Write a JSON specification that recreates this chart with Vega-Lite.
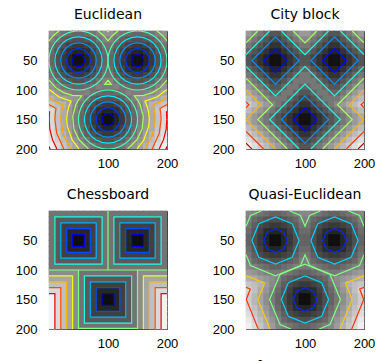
{
"$schema":"https://vega.github.io/schema/vega-lite/v6.json",
"padding":{"left":14,"top":7,"right":0,"bottom":0},
"bounds":"flush",
"columns":2,
"spacing":{"row":62,"column":79},
"resolve":{"scale":{"fill":"independent","stroke":"independent"}},
"config":{
"view":{"stroke":"#262626","strokeWidth":1},
"axis":{"grid":false,"domain":false,"labelFont":"Liberation Sans","labelFontSize":13,"labelColor":"#000000","tickColor":"#262626","tickSize":-3,"labelFlush":false,"labelOverlap":false,"labelBound":false,"labelSeparation":0},
"axisX":{"labelPadding":11},
"axisY":{"labelPadding":15},
"title":{"font":"DejaVu Sans","fontSize":14,"fontWeight":"normal","color":"#000000","offset":9}
},
"title":{"text":"Fig.1 Distance transforms","orient":"bottom","anchor":"middle","font":"Liberation Serif","fontSize":21,"fontWeight":"normal","offset":7},
"datasets":{
"gE":[
{"x":5,"y":5,"d":64},{"x":15,"y":5,"d":57},{"x":25,"y":5,"d":51},{"x":35,"y":5,"d":47},{"x":45,"y":5,"d":45},{"x":55,"y":5,"d":45},{"x":65,"y":5,"d":47},{"x":75,"y":5,"d":51},{"x":85,"y":5,"d":57},{"x":95,"y":5,"d":64},{"x":105,"y":5,"d":64},{"x":115,"y":5,"d":57},{"x":125,"y":5,"d":51},{"x":135,"y":5,"d":47},{"x":145,"y":5,"d":45},{"x":155,"y":5,"d":45},{"x":165,"y":5,"d":47},{"x":175,"y":5,"d":51},{"x":185,"y":5,"d":57},{"x":195,"y":5,"d":64},
{"x":5,"y":15,"d":57},{"x":15,"y":15,"d":50},{"x":25,"y":15,"d":43},{"x":35,"y":15,"d":38},{"x":45,"y":15,"d":35},{"x":55,"y":15,"d":35},{"x":65,"y":15,"d":38},{"x":75,"y":15,"d":43},{"x":85,"y":15,"d":50},{"x":95,"y":15,"d":57},{"x":105,"y":15,"d":57},{"x":115,"y":15,"d":50},{"x":125,"y":15,"d":43},{"x":135,"y":15,"d":38},{"x":145,"y":15,"d":35},{"x":155,"y":15,"d":35},{"x":165,"y":15,"d":38},{"x":175,"y":15,"d":43},{"x":185,"y":15,"d":50},{"x":195,"y":15,"d":57},
{"x":5,"y":25,"d":51},{"x":15,"y":25,"d":43},{"x":25,"y":25,"d":35},{"x":35,"y":25,"d":29},{"x":45,"y":25,"d":25},{"x":55,"y":25,"d":25},{"x":65,"y":25,"d":29},{"x":75,"y":25,"d":35},{"x":85,"y":25,"d":43},{"x":95,"y":25,"d":51},{"x":105,"y":25,"d":51},{"x":115,"y":25,"d":43},{"x":125,"y":25,"d":35},{"x":135,"y":25,"d":29},{"x":145,"y":25,"d":25},{"x":155,"y":25,"d":25},{"x":165,"y":25,"d":29},{"x":175,"y":25,"d":35},{"x":185,"y":25,"d":43},{"x":195,"y":25,"d":51},
{"x":5,"y":35,"d":47},{"x":15,"y":35,"d":38},{"x":25,"y":35,"d":29},{"x":35,"y":35,"d":21},{"x":45,"y":35,"d":16},{"x":55,"y":35,"d":16},{"x":65,"y":35,"d":21},{"x":75,"y":35,"d":29},{"x":85,"y":35,"d":38},{"x":95,"y":35,"d":47},{"x":105,"y":35,"d":47},{"x":115,"y":35,"d":38},{"x":125,"y":35,"d":29},{"x":135,"y":35,"d":21},{"x":145,"y":35,"d":16},{"x":155,"y":35,"d":16},{"x":165,"y":35,"d":21},{"x":175,"y":35,"d":29},{"x":185,"y":35,"d":38},{"x":195,"y":35,"d":47},
{"x":5,"y":45,"d":45},{"x":15,"y":45,"d":35},{"x":25,"y":45,"d":25},{"x":35,"y":45,"d":16},{"x":45,"y":45,"d":7},{"x":55,"y":45,"d":7},{"x":65,"y":45,"d":16},{"x":75,"y":45,"d":25},{"x":85,"y":45,"d":35},{"x":95,"y":45,"d":45},{"x":105,"y":45,"d":45},{"x":115,"y":45,"d":35},{"x":125,"y":45,"d":25},{"x":135,"y":45,"d":16},{"x":145,"y":45,"d":7},{"x":155,"y":45,"d":7},{"x":165,"y":45,"d":16},{"x":175,"y":45,"d":25},{"x":185,"y":45,"d":35},{"x":195,"y":45,"d":45},
{"x":5,"y":55,"d":45},{"x":15,"y":55,"d":35},{"x":25,"y":55,"d":25},{"x":35,"y":55,"d":16},{"x":45,"y":55,"d":7},{"x":55,"y":55,"d":7},{"x":65,"y":55,"d":16},{"x":75,"y":55,"d":25},{"x":85,"y":55,"d":35},{"x":95,"y":55,"d":45},{"x":105,"y":55,"d":45},{"x":115,"y":55,"d":35},{"x":125,"y":55,"d":25},{"x":135,"y":55,"d":16},{"x":145,"y":55,"d":7},{"x":155,"y":55,"d":7},{"x":165,"y":55,"d":16},{"x":175,"y":55,"d":25},{"x":185,"y":55,"d":35},{"x":195,"y":55,"d":45},
{"x":5,"y":65,"d":47},{"x":15,"y":65,"d":38},{"x":25,"y":65,"d":29},{"x":35,"y":65,"d":21},{"x":45,"y":65,"d":16},{"x":55,"y":65,"d":16},{"x":65,"y":65,"d":21},{"x":75,"y":65,"d":29},{"x":85,"y":65,"d":38},{"x":95,"y":65,"d":47},{"x":105,"y":65,"d":47},{"x":115,"y":65,"d":38},{"x":125,"y":65,"d":29},{"x":135,"y":65,"d":21},{"x":145,"y":65,"d":16},{"x":155,"y":65,"d":16},{"x":165,"y":65,"d":21},{"x":175,"y":65,"d":29},{"x":185,"y":65,"d":38},{"x":195,"y":65,"d":47},
{"x":5,"y":75,"d":51},{"x":15,"y":75,"d":43},{"x":25,"y":75,"d":35},{"x":35,"y":75,"d":29},{"x":45,"y":75,"d":25},{"x":55,"y":75,"d":25},{"x":65,"y":75,"d":29},{"x":75,"y":75,"d":35},{"x":85,"y":75,"d":43},{"x":95,"y":75,"d":51},{"x":105,"y":75,"d":51},{"x":115,"y":75,"d":43},{"x":125,"y":75,"d":35},{"x":135,"y":75,"d":29},{"x":145,"y":75,"d":25},{"x":155,"y":75,"d":25},{"x":165,"y":75,"d":29},{"x":175,"y":75,"d":35},{"x":185,"y":75,"d":43},{"x":195,"y":75,"d":51},
{"x":5,"y":85,"d":57},{"x":15,"y":85,"d":50},{"x":25,"y":85,"d":43},{"x":35,"y":85,"d":38},{"x":45,"y":85,"d":35},{"x":55,"y":85,"d":35},{"x":65,"y":85,"d":38},{"x":75,"y":85,"d":43},{"x":85,"y":85,"d":50},{"x":95,"y":85,"d":57},{"x":105,"y":85,"d":57},{"x":115,"y":85,"d":50},{"x":125,"y":85,"d":43},{"x":135,"y":85,"d":38},{"x":145,"y":85,"d":35},{"x":155,"y":85,"d":35},{"x":165,"y":85,"d":38},{"x":175,"y":85,"d":43},{"x":185,"y":85,"d":50},{"x":195,"y":85,"d":57},
{"x":5,"y":95,"d":64},{"x":15,"y":95,"d":57},{"x":25,"y":95,"d":51},{"x":35,"y":95,"d":47},{"x":45,"y":95,"d":45},{"x":55,"y":95,"d":45},{"x":65,"y":95,"d":47},{"x":75,"y":95,"d":51},{"x":85,"y":95,"d":57},{"x":95,"y":95,"d":55},{"x":105,"y":95,"d":55},{"x":115,"y":95,"d":57},{"x":125,"y":95,"d":51},{"x":135,"y":95,"d":47},{"x":145,"y":95,"d":45},{"x":155,"y":95,"d":45},{"x":165,"y":95,"d":47},{"x":175,"y":95,"d":51},{"x":185,"y":95,"d":57},{"x":195,"y":95,"d":64},
{"x":5,"y":105,"d":71},{"x":15,"y":105,"d":65},{"x":25,"y":105,"d":60},{"x":35,"y":105,"d":57},{"x":45,"y":105,"d":55},{"x":55,"y":105,"d":55},{"x":65,"y":105,"d":57},{"x":75,"y":105,"d":51},{"x":85,"y":105,"d":47},{"x":95,"y":105,"d":45},{"x":105,"y":105,"d":45},{"x":115,"y":105,"d":47},{"x":125,"y":105,"d":51},{"x":135,"y":105,"d":57},{"x":145,"y":105,"d":55},{"x":155,"y":105,"d":55},{"x":165,"y":105,"d":57},{"x":175,"y":105,"d":60},{"x":185,"y":105,"d":65},{"x":195,"y":105,"d":71},
{"x":5,"y":115,"d":79},{"x":15,"y":115,"d":74},{"x":25,"y":115,"d":70},{"x":35,"y":115,"d":67},{"x":45,"y":115,"d":65},{"x":55,"y":115,"d":57},{"x":65,"y":115,"d":50},{"x":75,"y":115,"d":43},{"x":85,"y":115,"d":38},{"x":95,"y":115,"d":35},{"x":105,"y":115,"d":35},{"x":115,"y":115,"d":38},{"x":125,"y":115,"d":43},{"x":135,"y":115,"d":50},{"x":145,"y":115,"d":57},{"x":155,"y":115,"d":65},{"x":165,"y":115,"d":67},{"x":175,"y":115,"d":70},{"x":185,"y":115,"d":74},{"x":195,"y":115,"d":79},
{"x":5,"y":125,"d":87},{"x":15,"y":125,"d":83},{"x":25,"y":125,"d":79},{"x":35,"y":125,"d":70},{"x":45,"y":125,"d":60},{"x":55,"y":125,"d":51},{"x":65,"y":125,"d":43},{"x":75,"y":125,"d":35},{"x":85,"y":125,"d":29},{"x":95,"y":125,"d":25},{"x":105,"y":125,"d":25},{"x":115,"y":125,"d":29},{"x":125,"y":125,"d":35},{"x":135,"y":125,"d":43},{"x":145,"y":125,"d":51},{"x":155,"y":125,"d":60},{"x":165,"y":125,"d":70},{"x":175,"y":125,"d":79},{"x":185,"y":125,"d":83},{"x":195,"y":125,"d":87},
{"x":5,"y":135,"d":96},{"x":15,"y":135,"d":86},{"x":25,"y":135,"d":76},{"x":35,"y":135,"d":67},{"x":45,"y":135,"d":57},{"x":55,"y":135,"d":47},{"x":65,"y":135,"d":38},{"x":75,"y":135,"d":29},{"x":85,"y":135,"d":21},{"x":95,"y":135,"d":16},{"x":105,"y":135,"d":16},{"x":115,"y":135,"d":21},{"x":125,"y":135,"d":29},{"x":135,"y":135,"d":38},{"x":145,"y":135,"d":47},{"x":155,"y":135,"d":57},{"x":165,"y":135,"d":67},{"x":175,"y":135,"d":76},{"x":185,"y":135,"d":86},{"x":195,"y":135,"d":96},
{"x":5,"y":145,"d":95},{"x":15,"y":145,"d":85},{"x":25,"y":145,"d":75},{"x":35,"y":145,"d":65},{"x":45,"y":145,"d":55},{"x":55,"y":145,"d":45},{"x":65,"y":145,"d":35},{"x":75,"y":145,"d":25},{"x":85,"y":145,"d":16},{"x":95,"y":145,"d":7},{"x":105,"y":145,"d":7},{"x":115,"y":145,"d":16},{"x":125,"y":145,"d":25},{"x":135,"y":145,"d":35},{"x":145,"y":145,"d":45},{"x":155,"y":145,"d":55},{"x":165,"y":145,"d":65},{"x":175,"y":145,"d":75},{"x":185,"y":145,"d":85},{"x":195,"y":145,"d":95},
{"x":5,"y":155,"d":95},{"x":15,"y":155,"d":85},{"x":25,"y":155,"d":75},{"x":35,"y":155,"d":65},{"x":45,"y":155,"d":55},{"x":55,"y":155,"d":45},{"x":65,"y":155,"d":35},{"x":75,"y":155,"d":25},{"x":85,"y":155,"d":16},{"x":95,"y":155,"d":7},{"x":105,"y":155,"d":7},{"x":115,"y":155,"d":16},{"x":125,"y":155,"d":25},{"x":135,"y":155,"d":35},{"x":145,"y":155,"d":45},{"x":155,"y":155,"d":55},{"x":165,"y":155,"d":65},{"x":175,"y":155,"d":75},{"x":185,"y":155,"d":85},{"x":195,"y":155,"d":95},
{"x":5,"y":165,"d":96},{"x":15,"y":165,"d":86},{"x":25,"y":165,"d":76},{"x":35,"y":165,"d":67},{"x":45,"y":165,"d":57},{"x":55,"y":165,"d":47},{"x":65,"y":165,"d":38},{"x":75,"y":165,"d":29},{"x":85,"y":165,"d":21},{"x":95,"y":165,"d":16},{"x":105,"y":165,"d":16},{"x":115,"y":165,"d":21},{"x":125,"y":165,"d":29},{"x":135,"y":165,"d":38},{"x":145,"y":165,"d":47},{"x":155,"y":165,"d":57},{"x":165,"y":165,"d":67},{"x":175,"y":165,"d":76},{"x":185,"y":165,"d":86},{"x":195,"y":165,"d":96},
{"x":5,"y":175,"d":98},{"x":15,"y":175,"d":89},{"x":25,"y":175,"d":79},{"x":35,"y":175,"d":70},{"x":45,"y":175,"d":60},{"x":55,"y":175,"d":51},{"x":65,"y":175,"d":43},{"x":75,"y":175,"d":35},{"x":85,"y":175,"d":29},{"x":95,"y":175,"d":25},{"x":105,"y":175,"d":25},{"x":115,"y":175,"d":29},{"x":125,"y":175,"d":35},{"x":135,"y":175,"d":43},{"x":145,"y":175,"d":51},{"x":155,"y":175,"d":60},{"x":165,"y":175,"d":70},{"x":175,"y":175,"d":79},{"x":185,"y":175,"d":89},{"x":195,"y":175,"d":98},
{"x":5,"y":185,"d":101},{"x":15,"y":185,"d":92},{"x":25,"y":185,"d":83},{"x":35,"y":185,"d":74},{"x":45,"y":185,"d":65},{"x":55,"y":185,"d":57},{"x":65,"y":185,"d":50},{"x":75,"y":185,"d":43},{"x":85,"y":185,"d":38},{"x":95,"y":185,"d":35},{"x":105,"y":185,"d":35},{"x":115,"y":185,"d":38},{"x":125,"y":185,"d":43},{"x":135,"y":185,"d":50},{"x":145,"y":185,"d":57},{"x":155,"y":185,"d":65},{"x":165,"y":185,"d":74},{"x":175,"y":185,"d":83},{"x":185,"y":185,"d":92},{"x":195,"y":185,"d":101},
{"x":5,"y":195,"d":105},{"x":15,"y":195,"d":96},{"x":25,"y":195,"d":87},{"x":35,"y":195,"d":79},{"x":45,"y":195,"d":71},{"x":55,"y":195,"d":64},{"x":65,"y":195,"d":57},{"x":75,"y":195,"d":51},{"x":85,"y":195,"d":47},{"x":95,"y":195,"d":45},{"x":105,"y":195,"d":45},{"x":115,"y":195,"d":47},{"x":125,"y":195,"d":51},{"x":135,"y":195,"d":57},{"x":145,"y":195,"d":64},{"x":155,"y":195,"d":71},{"x":165,"y":195,"d":79},{"x":175,"y":195,"d":87},{"x":185,"y":195,"d":96},{"x":195,"y":195,"d":105}
],
"gC":[
{"x":5,"y":5,"d":90},{"x":15,"y":5,"d":80},{"x":25,"y":5,"d":70},{"x":35,"y":5,"d":60},{"x":45,"y":5,"d":50},{"x":55,"y":5,"d":50},{"x":65,"y":5,"d":60},{"x":75,"y":5,"d":70},{"x":85,"y":5,"d":80},{"x":95,"y":5,"d":90},{"x":105,"y":5,"d":90},{"x":115,"y":5,"d":80},{"x":125,"y":5,"d":70},{"x":135,"y":5,"d":60},{"x":145,"y":5,"d":50},{"x":155,"y":5,"d":50},{"x":165,"y":5,"d":60},{"x":175,"y":5,"d":70},{"x":185,"y":5,"d":80},{"x":195,"y":5,"d":90},
{"x":5,"y":15,"d":80},{"x":15,"y":15,"d":70},{"x":25,"y":15,"d":60},{"x":35,"y":15,"d":50},{"x":45,"y":15,"d":40},{"x":55,"y":15,"d":40},{"x":65,"y":15,"d":50},{"x":75,"y":15,"d":60},{"x":85,"y":15,"d":70},{"x":95,"y":15,"d":80},{"x":105,"y":15,"d":80},{"x":115,"y":15,"d":70},{"x":125,"y":15,"d":60},{"x":135,"y":15,"d":50},{"x":145,"y":15,"d":40},{"x":155,"y":15,"d":40},{"x":165,"y":15,"d":50},{"x":175,"y":15,"d":60},{"x":185,"y":15,"d":70},{"x":195,"y":15,"d":80},
{"x":5,"y":25,"d":70},{"x":15,"y":25,"d":60},{"x":25,"y":25,"d":50},{"x":35,"y":25,"d":40},{"x":45,"y":25,"d":30},{"x":55,"y":25,"d":30},{"x":65,"y":25,"d":40},{"x":75,"y":25,"d":50},{"x":85,"y":25,"d":60},{"x":95,"y":25,"d":70},{"x":105,"y":25,"d":70},{"x":115,"y":25,"d":60},{"x":125,"y":25,"d":50},{"x":135,"y":25,"d":40},{"x":145,"y":25,"d":30},{"x":155,"y":25,"d":30},{"x":165,"y":25,"d":40},{"x":175,"y":25,"d":50},{"x":185,"y":25,"d":60},{"x":195,"y":25,"d":70},
{"x":5,"y":35,"d":60},{"x":15,"y":35,"d":50},{"x":25,"y":35,"d":40},{"x":35,"y":35,"d":30},{"x":45,"y":35,"d":20},{"x":55,"y":35,"d":20},{"x":65,"y":35,"d":30},{"x":75,"y":35,"d":40},{"x":85,"y":35,"d":50},{"x":95,"y":35,"d":60},{"x":105,"y":35,"d":60},{"x":115,"y":35,"d":50},{"x":125,"y":35,"d":40},{"x":135,"y":35,"d":30},{"x":145,"y":35,"d":20},{"x":155,"y":35,"d":20},{"x":165,"y":35,"d":30},{"x":175,"y":35,"d":40},{"x":185,"y":35,"d":50},{"x":195,"y":35,"d":60},
{"x":5,"y":45,"d":50},{"x":15,"y":45,"d":40},{"x":25,"y":45,"d":30},{"x":35,"y":45,"d":20},{"x":45,"y":45,"d":10},{"x":55,"y":45,"d":10},{"x":65,"y":45,"d":20},{"x":75,"y":45,"d":30},{"x":85,"y":45,"d":40},{"x":95,"y":45,"d":50},{"x":105,"y":45,"d":50},{"x":115,"y":45,"d":40},{"x":125,"y":45,"d":30},{"x":135,"y":45,"d":20},{"x":145,"y":45,"d":10},{"x":155,"y":45,"d":10},{"x":165,"y":45,"d":20},{"x":175,"y":45,"d":30},{"x":185,"y":45,"d":40},{"x":195,"y":45,"d":50},
{"x":5,"y":55,"d":50},{"x":15,"y":55,"d":40},{"x":25,"y":55,"d":30},{"x":35,"y":55,"d":20},{"x":45,"y":55,"d":10},{"x":55,"y":55,"d":10},{"x":65,"y":55,"d":20},{"x":75,"y":55,"d":30},{"x":85,"y":55,"d":40},{"x":95,"y":55,"d":50},{"x":105,"y":55,"d":50},{"x":115,"y":55,"d":40},{"x":125,"y":55,"d":30},{"x":135,"y":55,"d":20},{"x":145,"y":55,"d":10},{"x":155,"y":55,"d":10},{"x":165,"y":55,"d":20},{"x":175,"y":55,"d":30},{"x":185,"y":55,"d":40},{"x":195,"y":55,"d":50},
{"x":5,"y":65,"d":60},{"x":15,"y":65,"d":50},{"x":25,"y":65,"d":40},{"x":35,"y":65,"d":30},{"x":45,"y":65,"d":20},{"x":55,"y":65,"d":20},{"x":65,"y":65,"d":30},{"x":75,"y":65,"d":40},{"x":85,"y":65,"d":50},{"x":95,"y":65,"d":60},{"x":105,"y":65,"d":60},{"x":115,"y":65,"d":50},{"x":125,"y":65,"d":40},{"x":135,"y":65,"d":30},{"x":145,"y":65,"d":20},{"x":155,"y":65,"d":20},{"x":165,"y":65,"d":30},{"x":175,"y":65,"d":40},{"x":185,"y":65,"d":50},{"x":195,"y":65,"d":60},
{"x":5,"y":75,"d":70},{"x":15,"y":75,"d":60},{"x":25,"y":75,"d":50},{"x":35,"y":75,"d":40},{"x":45,"y":75,"d":30},{"x":55,"y":75,"d":30},{"x":65,"y":75,"d":40},{"x":75,"y":75,"d":50},{"x":85,"y":75,"d":60},{"x":95,"y":75,"d":70},{"x":105,"y":75,"d":70},{"x":115,"y":75,"d":60},{"x":125,"y":75,"d":50},{"x":135,"y":75,"d":40},{"x":145,"y":75,"d":30},{"x":155,"y":75,"d":30},{"x":165,"y":75,"d":40},{"x":175,"y":75,"d":50},{"x":185,"y":75,"d":60},{"x":195,"y":75,"d":70},
{"x":5,"y":85,"d":80},{"x":15,"y":85,"d":70},{"x":25,"y":85,"d":60},{"x":35,"y":85,"d":50},{"x":45,"y":85,"d":40},{"x":55,"y":85,"d":40},{"x":65,"y":85,"d":50},{"x":75,"y":85,"d":60},{"x":85,"y":85,"d":70},{"x":95,"y":85,"d":70},{"x":105,"y":85,"d":70},{"x":115,"y":85,"d":70},{"x":125,"y":85,"d":60},{"x":135,"y":85,"d":50},{"x":145,"y":85,"d":40},{"x":155,"y":85,"d":40},{"x":165,"y":85,"d":50},{"x":175,"y":85,"d":60},{"x":185,"y":85,"d":70},{"x":195,"y":85,"d":80},
{"x":5,"y":95,"d":90},{"x":15,"y":95,"d":80},{"x":25,"y":95,"d":70},{"x":35,"y":95,"d":60},{"x":45,"y":95,"d":50},{"x":55,"y":95,"d":50},{"x":65,"y":95,"d":60},{"x":75,"y":95,"d":70},{"x":85,"y":95,"d":70},{"x":95,"y":95,"d":60},{"x":105,"y":95,"d":60},{"x":115,"y":95,"d":70},{"x":125,"y":95,"d":70},{"x":135,"y":95,"d":60},{"x":145,"y":95,"d":50},{"x":155,"y":95,"d":50},{"x":165,"y":95,"d":60},{"x":175,"y":95,"d":70},{"x":185,"y":95,"d":80},{"x":195,"y":95,"d":90},
{"x":5,"y":105,"d":100},{"x":15,"y":105,"d":90},{"x":25,"y":105,"d":80},{"x":35,"y":105,"d":70},{"x":45,"y":105,"d":60},{"x":55,"y":105,"d":60},{"x":65,"y":105,"d":70},{"x":75,"y":105,"d":70},{"x":85,"y":105,"d":60},{"x":95,"y":105,"d":50},{"x":105,"y":105,"d":50},{"x":115,"y":105,"d":60},{"x":125,"y":105,"d":70},{"x":135,"y":105,"d":70},{"x":145,"y":105,"d":60},{"x":155,"y":105,"d":60},{"x":165,"y":105,"d":70},{"x":175,"y":105,"d":80},{"x":185,"y":105,"d":90},{"x":195,"y":105,"d":100},
{"x":5,"y":115,"d":110},{"x":15,"y":115,"d":100},{"x":25,"y":115,"d":90},{"x":35,"y":115,"d":80},{"x":45,"y":115,"d":70},{"x":55,"y":115,"d":70},{"x":65,"y":115,"d":70},{"x":75,"y":115,"d":60},{"x":85,"y":115,"d":50},{"x":95,"y":115,"d":40},{"x":105,"y":115,"d":40},{"x":115,"y":115,"d":50},{"x":125,"y":115,"d":60},{"x":135,"y":115,"d":70},{"x":145,"y":115,"d":70},{"x":155,"y":115,"d":70},{"x":165,"y":115,"d":80},{"x":175,"y":115,"d":90},{"x":185,"y":115,"d":100},{"x":195,"y":115,"d":110},
{"x":5,"y":125,"d":120},{"x":15,"y":125,"d":110},{"x":25,"y":125,"d":100},{"x":35,"y":125,"d":90},{"x":45,"y":125,"d":80},{"x":55,"y":125,"d":70},{"x":65,"y":125,"d":60},{"x":75,"y":125,"d":50},{"x":85,"y":125,"d":40},{"x":95,"y":125,"d":30},{"x":105,"y":125,"d":30},{"x":115,"y":125,"d":40},{"x":125,"y":125,"d":50},{"x":135,"y":125,"d":60},{"x":145,"y":125,"d":70},{"x":155,"y":125,"d":80},{"x":165,"y":125,"d":90},{"x":175,"y":125,"d":100},{"x":185,"y":125,"d":110},{"x":195,"y":125,"d":120},
{"x":5,"y":135,"d":110},{"x":15,"y":135,"d":100},{"x":25,"y":135,"d":90},{"x":35,"y":135,"d":80},{"x":45,"y":135,"d":70},{"x":55,"y":135,"d":60},{"x":65,"y":135,"d":50},{"x":75,"y":135,"d":40},{"x":85,"y":135,"d":30},{"x":95,"y":135,"d":20},{"x":105,"y":135,"d":20},{"x":115,"y":135,"d":30},{"x":125,"y":135,"d":40},{"x":135,"y":135,"d":50},{"x":145,"y":135,"d":60},{"x":155,"y":135,"d":70},{"x":165,"y":135,"d":80},{"x":175,"y":135,"d":90},{"x":185,"y":135,"d":100},{"x":195,"y":135,"d":110},
{"x":5,"y":145,"d":100},{"x":15,"y":145,"d":90},{"x":25,"y":145,"d":80},{"x":35,"y":145,"d":70},{"x":45,"y":145,"d":60},{"x":55,"y":145,"d":50},{"x":65,"y":145,"d":40},{"x":75,"y":145,"d":30},{"x":85,"y":145,"d":20},{"x":95,"y":145,"d":10},{"x":105,"y":145,"d":10},{"x":115,"y":145,"d":20},{"x":125,"y":145,"d":30},{"x":135,"y":145,"d":40},{"x":145,"y":145,"d":50},{"x":155,"y":145,"d":60},{"x":165,"y":145,"d":70},{"x":175,"y":145,"d":80},{"x":185,"y":145,"d":90},{"x":195,"y":145,"d":100},
{"x":5,"y":155,"d":100},{"x":15,"y":155,"d":90},{"x":25,"y":155,"d":80},{"x":35,"y":155,"d":70},{"x":45,"y":155,"d":60},{"x":55,"y":155,"d":50},{"x":65,"y":155,"d":40},{"x":75,"y":155,"d":30},{"x":85,"y":155,"d":20},{"x":95,"y":155,"d":10},{"x":105,"y":155,"d":10},{"x":115,"y":155,"d":20},{"x":125,"y":155,"d":30},{"x":135,"y":155,"d":40},{"x":145,"y":155,"d":50},{"x":155,"y":155,"d":60},{"x":165,"y":155,"d":70},{"x":175,"y":155,"d":80},{"x":185,"y":155,"d":90},{"x":195,"y":155,"d":100},
{"x":5,"y":165,"d":110},{"x":15,"y":165,"d":100},{"x":25,"y":165,"d":90},{"x":35,"y":165,"d":80},{"x":45,"y":165,"d":70},{"x":55,"y":165,"d":60},{"x":65,"y":165,"d":50},{"x":75,"y":165,"d":40},{"x":85,"y":165,"d":30},{"x":95,"y":165,"d":20},{"x":105,"y":165,"d":20},{"x":115,"y":165,"d":30},{"x":125,"y":165,"d":40},{"x":135,"y":165,"d":50},{"x":145,"y":165,"d":60},{"x":155,"y":165,"d":70},{"x":165,"y":165,"d":80},{"x":175,"y":165,"d":90},{"x":185,"y":165,"d":100},{"x":195,"y":165,"d":110},
{"x":5,"y":175,"d":120},{"x":15,"y":175,"d":110},{"x":25,"y":175,"d":100},{"x":35,"y":175,"d":90},{"x":45,"y":175,"d":80},{"x":55,"y":175,"d":70},{"x":65,"y":175,"d":60},{"x":75,"y":175,"d":50},{"x":85,"y":175,"d":40},{"x":95,"y":175,"d":30},{"x":105,"y":175,"d":30},{"x":115,"y":175,"d":40},{"x":125,"y":175,"d":50},{"x":135,"y":175,"d":60},{"x":145,"y":175,"d":70},{"x":155,"y":175,"d":80},{"x":165,"y":175,"d":90},{"x":175,"y":175,"d":100},{"x":185,"y":175,"d":110},{"x":195,"y":175,"d":120},
{"x":5,"y":185,"d":130},{"x":15,"y":185,"d":120},{"x":25,"y":185,"d":110},{"x":35,"y":185,"d":100},{"x":45,"y":185,"d":90},{"x":55,"y":185,"d":80},{"x":65,"y":185,"d":70},{"x":75,"y":185,"d":60},{"x":85,"y":185,"d":50},{"x":95,"y":185,"d":40},{"x":105,"y":185,"d":40},{"x":115,"y":185,"d":50},{"x":125,"y":185,"d":60},{"x":135,"y":185,"d":70},{"x":145,"y":185,"d":80},{"x":155,"y":185,"d":90},{"x":165,"y":185,"d":100},{"x":175,"y":185,"d":110},{"x":185,"y":185,"d":120},{"x":195,"y":185,"d":130},
{"x":5,"y":195,"d":140},{"x":15,"y":195,"d":130},{"x":25,"y":195,"d":120},{"x":35,"y":195,"d":110},{"x":45,"y":195,"d":100},{"x":55,"y":195,"d":90},{"x":65,"y":195,"d":80},{"x":75,"y":195,"d":70},{"x":85,"y":195,"d":60},{"x":95,"y":195,"d":50},{"x":105,"y":195,"d":50},{"x":115,"y":195,"d":60},{"x":125,"y":195,"d":70},{"x":135,"y":195,"d":80},{"x":145,"y":195,"d":90},{"x":155,"y":195,"d":100},{"x":165,"y":195,"d":110},{"x":175,"y":195,"d":120},{"x":185,"y":195,"d":130},{"x":195,"y":195,"d":140}
],
"gS":[
{"x":5,"y":5,"d":45},{"x":15,"y":5,"d":45},{"x":25,"y":5,"d":45},{"x":35,"y":5,"d":45},{"x":45,"y":5,"d":45},{"x":55,"y":5,"d":45},{"x":65,"y":5,"d":45},{"x":75,"y":5,"d":45},{"x":85,"y":5,"d":45},{"x":95,"y":5,"d":45},{"x":105,"y":5,"d":45},{"x":115,"y":5,"d":45},{"x":125,"y":5,"d":45},{"x":135,"y":5,"d":45},{"x":145,"y":5,"d":45},{"x":155,"y":5,"d":45},{"x":165,"y":5,"d":45},{"x":175,"y":5,"d":45},{"x":185,"y":5,"d":45},{"x":195,"y":5,"d":45},
{"x":5,"y":15,"d":45},{"x":15,"y":15,"d":35},{"x":25,"y":15,"d":35},{"x":35,"y":15,"d":35},{"x":45,"y":15,"d":35},{"x":55,"y":15,"d":35},{"x":65,"y":15,"d":35},{"x":75,"y":15,"d":35},{"x":85,"y":15,"d":35},{"x":95,"y":15,"d":45},{"x":105,"y":15,"d":45},{"x":115,"y":15,"d":35},{"x":125,"y":15,"d":35},{"x":135,"y":15,"d":35},{"x":145,"y":15,"d":35},{"x":155,"y":15,"d":35},{"x":165,"y":15,"d":35},{"x":175,"y":15,"d":35},{"x":185,"y":15,"d":35},{"x":195,"y":15,"d":45},
{"x":5,"y":25,"d":45},{"x":15,"y":25,"d":35},{"x":25,"y":25,"d":25},{"x":35,"y":25,"d":25},{"x":45,"y":25,"d":25},{"x":55,"y":25,"d":25},{"x":65,"y":25,"d":25},{"x":75,"y":25,"d":25},{"x":85,"y":25,"d":35},{"x":95,"y":25,"d":45},{"x":105,"y":25,"d":45},{"x":115,"y":25,"d":35},{"x":125,"y":25,"d":25},{"x":135,"y":25,"d":25},{"x":145,"y":25,"d":25},{"x":155,"y":25,"d":25},{"x":165,"y":25,"d":25},{"x":175,"y":25,"d":25},{"x":185,"y":25,"d":35},{"x":195,"y":25,"d":45},
{"x":5,"y":35,"d":45},{"x":15,"y":35,"d":35},{"x":25,"y":35,"d":25},{"x":35,"y":35,"d":15},{"x":45,"y":35,"d":15},{"x":55,"y":35,"d":15},{"x":65,"y":35,"d":15},{"x":75,"y":35,"d":25},{"x":85,"y":35,"d":35},{"x":95,"y":35,"d":45},{"x":105,"y":35,"d":45},{"x":115,"y":35,"d":35},{"x":125,"y":35,"d":25},{"x":135,"y":35,"d":15},{"x":145,"y":35,"d":15},{"x":155,"y":35,"d":15},{"x":165,"y":35,"d":15},{"x":175,"y":35,"d":25},{"x":185,"y":35,"d":35},{"x":195,"y":35,"d":45},
{"x":5,"y":45,"d":45},{"x":15,"y":45,"d":35},{"x":25,"y":45,"d":25},{"x":35,"y":45,"d":15},{"x":45,"y":45,"d":5},{"x":55,"y":45,"d":5},{"x":65,"y":45,"d":15},{"x":75,"y":45,"d":25},{"x":85,"y":45,"d":35},{"x":95,"y":45,"d":45},{"x":105,"y":45,"d":45},{"x":115,"y":45,"d":35},{"x":125,"y":45,"d":25},{"x":135,"y":45,"d":15},{"x":145,"y":45,"d":5},{"x":155,"y":45,"d":5},{"x":165,"y":45,"d":15},{"x":175,"y":45,"d":25},{"x":185,"y":45,"d":35},{"x":195,"y":45,"d":45},
{"x":5,"y":55,"d":45},{"x":15,"y":55,"d":35},{"x":25,"y":55,"d":25},{"x":35,"y":55,"d":15},{"x":45,"y":55,"d":5},{"x":55,"y":55,"d":5},{"x":65,"y":55,"d":15},{"x":75,"y":55,"d":25},{"x":85,"y":55,"d":35},{"x":95,"y":55,"d":45},{"x":105,"y":55,"d":45},{"x":115,"y":55,"d":35},{"x":125,"y":55,"d":25},{"x":135,"y":55,"d":15},{"x":145,"y":55,"d":5},{"x":155,"y":55,"d":5},{"x":165,"y":55,"d":15},{"x":175,"y":55,"d":25},{"x":185,"y":55,"d":35},{"x":195,"y":55,"d":45},
{"x":5,"y":65,"d":45},{"x":15,"y":65,"d":35},{"x":25,"y":65,"d":25},{"x":35,"y":65,"d":15},{"x":45,"y":65,"d":15},{"x":55,"y":65,"d":15},{"x":65,"y":65,"d":15},{"x":75,"y":65,"d":25},{"x":85,"y":65,"d":35},{"x":95,"y":65,"d":45},{"x":105,"y":65,"d":45},{"x":115,"y":65,"d":35},{"x":125,"y":65,"d":25},{"x":135,"y":65,"d":15},{"x":145,"y":65,"d":15},{"x":155,"y":65,"d":15},{"x":165,"y":65,"d":15},{"x":175,"y":65,"d":25},{"x":185,"y":65,"d":35},{"x":195,"y":65,"d":45},
{"x":5,"y":75,"d":45},{"x":15,"y":75,"d":35},{"x":25,"y":75,"d":25},{"x":35,"y":75,"d":25},{"x":45,"y":75,"d":25},{"x":55,"y":75,"d":25},{"x":65,"y":75,"d":25},{"x":75,"y":75,"d":25},{"x":85,"y":75,"d":35},{"x":95,"y":75,"d":45},{"x":105,"y":75,"d":45},{"x":115,"y":75,"d":35},{"x":125,"y":75,"d":25},{"x":135,"y":75,"d":25},{"x":145,"y":75,"d":25},{"x":155,"y":75,"d":25},{"x":165,"y":75,"d":25},{"x":175,"y":75,"d":25},{"x":185,"y":75,"d":35},{"x":195,"y":75,"d":45},
{"x":5,"y":85,"d":45},{"x":15,"y":85,"d":35},{"x":25,"y":85,"d":35},{"x":35,"y":85,"d":35},{"x":45,"y":85,"d":35},{"x":55,"y":85,"d":35},{"x":65,"y":85,"d":35},{"x":75,"y":85,"d":35},{"x":85,"y":85,"d":35},{"x":95,"y":85,"d":45},{"x":105,"y":85,"d":45},{"x":115,"y":85,"d":35},{"x":125,"y":85,"d":35},{"x":135,"y":85,"d":35},{"x":145,"y":85,"d":35},{"x":155,"y":85,"d":35},{"x":165,"y":85,"d":35},{"x":175,"y":85,"d":35},{"x":185,"y":85,"d":35},{"x":195,"y":85,"d":45},
{"x":5,"y":95,"d":45},{"x":15,"y":95,"d":45},{"x":25,"y":95,"d":45},{"x":35,"y":95,"d":45},{"x":45,"y":95,"d":45},{"x":55,"y":95,"d":45},{"x":65,"y":95,"d":45},{"x":75,"y":95,"d":45},{"x":85,"y":95,"d":45},{"x":95,"y":95,"d":45},{"x":105,"y":95,"d":45},{"x":115,"y":95,"d":45},{"x":125,"y":95,"d":45},{"x":135,"y":95,"d":45},{"x":145,"y":95,"d":45},{"x":155,"y":95,"d":45},{"x":165,"y":95,"d":45},{"x":175,"y":95,"d":45},{"x":185,"y":95,"d":45},{"x":195,"y":95,"d":45},
{"x":5,"y":105,"d":55},{"x":15,"y":105,"d":55},{"x":25,"y":105,"d":55},{"x":35,"y":105,"d":55},{"x":45,"y":105,"d":55},{"x":55,"y":105,"d":45},{"x":65,"y":105,"d":45},{"x":75,"y":105,"d":45},{"x":85,"y":105,"d":45},{"x":95,"y":105,"d":45},{"x":105,"y":105,"d":45},{"x":115,"y":105,"d":45},{"x":125,"y":105,"d":45},{"x":135,"y":105,"d":45},{"x":145,"y":105,"d":45},{"x":155,"y":105,"d":55},{"x":165,"y":105,"d":55},{"x":175,"y":105,"d":55},{"x":185,"y":105,"d":55},{"x":195,"y":105,"d":55},
{"x":5,"y":115,"d":65},{"x":15,"y":115,"d":65},{"x":25,"y":115,"d":65},{"x":35,"y":115,"d":65},{"x":45,"y":115,"d":55},{"x":55,"y":115,"d":45},{"x":65,"y":115,"d":35},{"x":75,"y":115,"d":35},{"x":85,"y":115,"d":35},{"x":95,"y":115,"d":35},{"x":105,"y":115,"d":35},{"x":115,"y":115,"d":35},{"x":125,"y":115,"d":35},{"x":135,"y":115,"d":35},{"x":145,"y":115,"d":45},{"x":155,"y":115,"d":55},{"x":165,"y":115,"d":65},{"x":175,"y":115,"d":65},{"x":185,"y":115,"d":65},{"x":195,"y":115,"d":65},
{"x":5,"y":125,"d":75},{"x":15,"y":125,"d":75},{"x":25,"y":125,"d":75},{"x":35,"y":125,"d":65},{"x":45,"y":125,"d":55},{"x":55,"y":125,"d":45},{"x":65,"y":125,"d":35},{"x":75,"y":125,"d":25},{"x":85,"y":125,"d":25},{"x":95,"y":125,"d":25},{"x":105,"y":125,"d":25},{"x":115,"y":125,"d":25},{"x":125,"y":125,"d":25},{"x":135,"y":125,"d":35},{"x":145,"y":125,"d":45},{"x":155,"y":125,"d":55},{"x":165,"y":125,"d":65},{"x":175,"y":125,"d":75},{"x":185,"y":125,"d":75},{"x":195,"y":125,"d":75},
{"x":5,"y":135,"d":85},{"x":15,"y":135,"d":85},{"x":25,"y":135,"d":75},{"x":35,"y":135,"d":65},{"x":45,"y":135,"d":55},{"x":55,"y":135,"d":45},{"x":65,"y":135,"d":35},{"x":75,"y":135,"d":25},{"x":85,"y":135,"d":15},{"x":95,"y":135,"d":15},{"x":105,"y":135,"d":15},{"x":115,"y":135,"d":15},{"x":125,"y":135,"d":25},{"x":135,"y":135,"d":35},{"x":145,"y":135,"d":45},{"x":155,"y":135,"d":55},{"x":165,"y":135,"d":65},{"x":175,"y":135,"d":75},{"x":185,"y":135,"d":85},{"x":195,"y":135,"d":85},
{"x":5,"y":145,"d":95},{"x":15,"y":145,"d":85},{"x":25,"y":145,"d":75},{"x":35,"y":145,"d":65},{"x":45,"y":145,"d":55},{"x":55,"y":145,"d":45},{"x":65,"y":145,"d":35},{"x":75,"y":145,"d":25},{"x":85,"y":145,"d":15},{"x":95,"y":145,"d":5},{"x":105,"y":145,"d":5},{"x":115,"y":145,"d":15},{"x":125,"y":145,"d":25},{"x":135,"y":145,"d":35},{"x":145,"y":145,"d":45},{"x":155,"y":145,"d":55},{"x":165,"y":145,"d":65},{"x":175,"y":145,"d":75},{"x":185,"y":145,"d":85},{"x":195,"y":145,"d":95},
{"x":5,"y":155,"d":95},{"x":15,"y":155,"d":85},{"x":25,"y":155,"d":75},{"x":35,"y":155,"d":65},{"x":45,"y":155,"d":55},{"x":55,"y":155,"d":45},{"x":65,"y":155,"d":35},{"x":75,"y":155,"d":25},{"x":85,"y":155,"d":15},{"x":95,"y":155,"d":5},{"x":105,"y":155,"d":5},{"x":115,"y":155,"d":15},{"x":125,"y":155,"d":25},{"x":135,"y":155,"d":35},{"x":145,"y":155,"d":45},{"x":155,"y":155,"d":55},{"x":165,"y":155,"d":65},{"x":175,"y":155,"d":75},{"x":185,"y":155,"d":85},{"x":195,"y":155,"d":95},
{"x":5,"y":165,"d":95},{"x":15,"y":165,"d":85},{"x":25,"y":165,"d":75},{"x":35,"y":165,"d":65},{"x":45,"y":165,"d":55},{"x":55,"y":165,"d":45},{"x":65,"y":165,"d":35},{"x":75,"y":165,"d":25},{"x":85,"y":165,"d":15},{"x":95,"y":165,"d":15},{"x":105,"y":165,"d":15},{"x":115,"y":165,"d":15},{"x":125,"y":165,"d":25},{"x":135,"y":165,"d":35},{"x":145,"y":165,"d":45},{"x":155,"y":165,"d":55},{"x":165,"y":165,"d":65},{"x":175,"y":165,"d":75},{"x":185,"y":165,"d":85},{"x":195,"y":165,"d":95},
{"x":5,"y":175,"d":95},{"x":15,"y":175,"d":85},{"x":25,"y":175,"d":75},{"x":35,"y":175,"d":65},{"x":45,"y":175,"d":55},{"x":55,"y":175,"d":45},{"x":65,"y":175,"d":35},{"x":75,"y":175,"d":25},{"x":85,"y":175,"d":25},{"x":95,"y":175,"d":25},{"x":105,"y":175,"d":25},{"x":115,"y":175,"d":25},{"x":125,"y":175,"d":25},{"x":135,"y":175,"d":35},{"x":145,"y":175,"d":45},{"x":155,"y":175,"d":55},{"x":165,"y":175,"d":65},{"x":175,"y":175,"d":75},{"x":185,"y":175,"d":85},{"x":195,"y":175,"d":95},
{"x":5,"y":185,"d":95},{"x":15,"y":185,"d":85},{"x":25,"y":185,"d":75},{"x":35,"y":185,"d":65},{"x":45,"y":185,"d":55},{"x":55,"y":185,"d":45},{"x":65,"y":185,"d":35},{"x":75,"y":185,"d":35},{"x":85,"y":185,"d":35},{"x":95,"y":185,"d":35},{"x":105,"y":185,"d":35},{"x":115,"y":185,"d":35},{"x":125,"y":185,"d":35},{"x":135,"y":185,"d":35},{"x":145,"y":185,"d":45},{"x":155,"y":185,"d":55},{"x":165,"y":185,"d":65},{"x":175,"y":185,"d":75},{"x":185,"y":185,"d":85},{"x":195,"y":185,"d":95},
{"x":5,"y":195,"d":95},{"x":15,"y":195,"d":85},{"x":25,"y":195,"d":75},{"x":35,"y":195,"d":65},{"x":45,"y":195,"d":55},{"x":55,"y":195,"d":45},{"x":65,"y":195,"d":45},{"x":75,"y":195,"d":45},{"x":85,"y":195,"d":45},{"x":95,"y":195,"d":45},{"x":105,"y":195,"d":45},{"x":115,"y":195,"d":45},{"x":125,"y":195,"d":45},{"x":135,"y":195,"d":45},{"x":145,"y":195,"d":45},{"x":155,"y":195,"d":55},{"x":165,"y":195,"d":65},{"x":175,"y":195,"d":75},{"x":185,"y":195,"d":85},{"x":195,"y":195,"d":95}
],
"gQ":[
{"x":5,"y":5,"d":64},{"x":15,"y":5,"d":60},{"x":25,"y":5,"d":55},{"x":35,"y":5,"d":51},{"x":45,"y":5,"d":47},{"x":55,"y":5,"d":47},{"x":65,"y":5,"d":51},{"x":75,"y":5,"d":55},{"x":85,"y":5,"d":60},{"x":95,"y":5,"d":64},{"x":105,"y":5,"d":64},{"x":115,"y":5,"d":60},{"x":125,"y":5,"d":55},{"x":135,"y":5,"d":51},{"x":145,"y":5,"d":47},{"x":155,"y":5,"d":47},{"x":165,"y":5,"d":51},{"x":175,"y":5,"d":55},{"x":185,"y":5,"d":60},{"x":195,"y":5,"d":64},
{"x":5,"y":15,"d":60},{"x":15,"y":15,"d":50},{"x":25,"y":15,"d":45},{"x":35,"y":15,"d":41},{"x":45,"y":15,"d":37},{"x":55,"y":15,"d":37},{"x":65,"y":15,"d":41},{"x":75,"y":15,"d":45},{"x":85,"y":15,"d":50},{"x":95,"y":15,"d":60},{"x":105,"y":15,"d":60},{"x":115,"y":15,"d":50},{"x":125,"y":15,"d":45},{"x":135,"y":15,"d":41},{"x":145,"y":15,"d":37},{"x":155,"y":15,"d":37},{"x":165,"y":15,"d":41},{"x":175,"y":15,"d":45},{"x":185,"y":15,"d":50},{"x":195,"y":15,"d":60},
{"x":5,"y":25,"d":55},{"x":15,"y":25,"d":45},{"x":25,"y":25,"d":35},{"x":35,"y":25,"d":31},{"x":45,"y":25,"d":27},{"x":55,"y":25,"d":27},{"x":65,"y":25,"d":31},{"x":75,"y":25,"d":35},{"x":85,"y":25,"d":45},{"x":95,"y":25,"d":55},{"x":105,"y":25,"d":55},{"x":115,"y":25,"d":45},{"x":125,"y":25,"d":35},{"x":135,"y":25,"d":31},{"x":145,"y":25,"d":27},{"x":155,"y":25,"d":27},{"x":165,"y":25,"d":31},{"x":175,"y":25,"d":35},{"x":185,"y":25,"d":45},{"x":195,"y":25,"d":55},
{"x":5,"y":35,"d":51},{"x":15,"y":35,"d":41},{"x":25,"y":35,"d":31},{"x":35,"y":35,"d":21},{"x":45,"y":35,"d":17},{"x":55,"y":35,"d":17},{"x":65,"y":35,"d":21},{"x":75,"y":35,"d":31},{"x":85,"y":35,"d":41},{"x":95,"y":35,"d":51},{"x":105,"y":35,"d":51},{"x":115,"y":35,"d":41},{"x":125,"y":35,"d":31},{"x":135,"y":35,"d":21},{"x":145,"y":35,"d":17},{"x":155,"y":35,"d":17},{"x":165,"y":35,"d":21},{"x":175,"y":35,"d":31},{"x":185,"y":35,"d":41},{"x":195,"y":35,"d":51},
{"x":5,"y":45,"d":47},{"x":15,"y":45,"d":37},{"x":25,"y":45,"d":27},{"x":35,"y":45,"d":17},{"x":45,"y":45,"d":7},{"x":55,"y":45,"d":7},{"x":65,"y":45,"d":17},{"x":75,"y":45,"d":27},{"x":85,"y":45,"d":37},{"x":95,"y":45,"d":47},{"x":105,"y":45,"d":47},{"x":115,"y":45,"d":37},{"x":125,"y":45,"d":27},{"x":135,"y":45,"d":17},{"x":145,"y":45,"d":7},{"x":155,"y":45,"d":7},{"x":165,"y":45,"d":17},{"x":175,"y":45,"d":27},{"x":185,"y":45,"d":37},{"x":195,"y":45,"d":47},
{"x":5,"y":55,"d":47},{"x":15,"y":55,"d":37},{"x":25,"y":55,"d":27},{"x":35,"y":55,"d":17},{"x":45,"y":55,"d":7},{"x":55,"y":55,"d":7},{"x":65,"y":55,"d":17},{"x":75,"y":55,"d":27},{"x":85,"y":55,"d":37},{"x":95,"y":55,"d":47},{"x":105,"y":55,"d":47},{"x":115,"y":55,"d":37},{"x":125,"y":55,"d":27},{"x":135,"y":55,"d":17},{"x":145,"y":55,"d":7},{"x":155,"y":55,"d":7},{"x":165,"y":55,"d":17},{"x":175,"y":55,"d":27},{"x":185,"y":55,"d":37},{"x":195,"y":55,"d":47},
{"x":5,"y":65,"d":51},{"x":15,"y":65,"d":41},{"x":25,"y":65,"d":31},{"x":35,"y":65,"d":21},{"x":45,"y":65,"d":17},{"x":55,"y":65,"d":17},{"x":65,"y":65,"d":21},{"x":75,"y":65,"d":31},{"x":85,"y":65,"d":41},{"x":95,"y":65,"d":51},{"x":105,"y":65,"d":51},{"x":115,"y":65,"d":41},{"x":125,"y":65,"d":31},{"x":135,"y":65,"d":21},{"x":145,"y":65,"d":17},{"x":155,"y":65,"d":17},{"x":165,"y":65,"d":21},{"x":175,"y":65,"d":31},{"x":185,"y":65,"d":41},{"x":195,"y":65,"d":51},
{"x":5,"y":75,"d":55},{"x":15,"y":75,"d":45},{"x":25,"y":75,"d":35},{"x":35,"y":75,"d":31},{"x":45,"y":75,"d":27},{"x":55,"y":75,"d":27},{"x":65,"y":75,"d":31},{"x":75,"y":75,"d":35},{"x":85,"y":75,"d":45},{"x":95,"y":75,"d":55},{"x":105,"y":75,"d":55},{"x":115,"y":75,"d":45},{"x":125,"y":75,"d":35},{"x":135,"y":75,"d":31},{"x":145,"y":75,"d":27},{"x":155,"y":75,"d":27},{"x":165,"y":75,"d":31},{"x":175,"y":75,"d":35},{"x":185,"y":75,"d":45},{"x":195,"y":75,"d":55},
{"x":5,"y":85,"d":60},{"x":15,"y":85,"d":50},{"x":25,"y":85,"d":45},{"x":35,"y":85,"d":41},{"x":45,"y":85,"d":37},{"x":55,"y":85,"d":37},{"x":65,"y":85,"d":41},{"x":75,"y":85,"d":45},{"x":85,"y":85,"d":50},{"x":95,"y":85,"d":60},{"x":105,"y":85,"d":60},{"x":115,"y":85,"d":50},{"x":125,"y":85,"d":45},{"x":135,"y":85,"d":41},{"x":145,"y":85,"d":37},{"x":155,"y":85,"d":37},{"x":165,"y":85,"d":41},{"x":175,"y":85,"d":45},{"x":185,"y":85,"d":50},{"x":195,"y":85,"d":60},
{"x":5,"y":95,"d":64},{"x":15,"y":95,"d":60},{"x":25,"y":95,"d":55},{"x":35,"y":95,"d":51},{"x":45,"y":95,"d":47},{"x":55,"y":95,"d":47},{"x":65,"y":95,"d":51},{"x":75,"y":95,"d":55},{"x":85,"y":95,"d":60},{"x":95,"y":95,"d":57},{"x":105,"y":95,"d":57},{"x":115,"y":95,"d":60},{"x":125,"y":95,"d":55},{"x":135,"y":95,"d":51},{"x":145,"y":95,"d":47},{"x":155,"y":95,"d":47},{"x":165,"y":95,"d":51},{"x":175,"y":95,"d":55},{"x":185,"y":95,"d":60},{"x":195,"y":95,"d":64},
{"x":5,"y":105,"d":74},{"x":15,"y":105,"d":70},{"x":25,"y":105,"d":65},{"x":35,"y":105,"d":61},{"x":45,"y":105,"d":57},{"x":55,"y":105,"d":57},{"x":65,"y":105,"d":60},{"x":75,"y":105,"d":55},{"x":85,"y":105,"d":51},{"x":95,"y":105,"d":47},{"x":105,"y":105,"d":47},{"x":115,"y":105,"d":51},{"x":125,"y":105,"d":55},{"x":135,"y":105,"d":60},{"x":145,"y":105,"d":57},{"x":155,"y":105,"d":57},{"x":165,"y":105,"d":61},{"x":175,"y":105,"d":65},{"x":185,"y":105,"d":70},{"x":195,"y":105,"d":74},
{"x":5,"y":115,"d":84},{"x":15,"y":115,"d":80},{"x":25,"y":115,"d":75},{"x":35,"y":115,"d":71},{"x":45,"y":115,"d":67},{"x":55,"y":115,"d":60},{"x":65,"y":115,"d":50},{"x":75,"y":115,"d":45},{"x":85,"y":115,"d":41},{"x":95,"y":115,"d":37},{"x":105,"y":115,"d":37},{"x":115,"y":115,"d":41},{"x":125,"y":115,"d":45},{"x":135,"y":115,"d":50},{"x":145,"y":115,"d":60},{"x":155,"y":115,"d":67},{"x":165,"y":115,"d":71},{"x":175,"y":115,"d":75},{"x":185,"y":115,"d":80},{"x":195,"y":115,"d":84},
{"x":5,"y":125,"d":94},{"x":15,"y":125,"d":90},{"x":25,"y":125,"d":85},{"x":35,"y":125,"d":75},{"x":45,"y":125,"d":65},{"x":55,"y":125,"d":55},{"x":65,"y":125,"d":45},{"x":75,"y":125,"d":35},{"x":85,"y":125,"d":31},{"x":95,"y":125,"d":27},{"x":105,"y":125,"d":27},{"x":115,"y":125,"d":31},{"x":125,"y":125,"d":35},{"x":135,"y":125,"d":45},{"x":145,"y":125,"d":55},{"x":155,"y":125,"d":65},{"x":165,"y":125,"d":75},{"x":175,"y":125,"d":85},{"x":185,"y":125,"d":90},{"x":195,"y":125,"d":94},
{"x":5,"y":135,"d":101},{"x":15,"y":135,"d":91},{"x":25,"y":135,"d":81},{"x":35,"y":135,"d":71},{"x":45,"y":135,"d":61},{"x":55,"y":135,"d":51},{"x":65,"y":135,"d":41},{"x":75,"y":135,"d":31},{"x":85,"y":135,"d":21},{"x":95,"y":135,"d":17},{"x":105,"y":135,"d":17},{"x":115,"y":135,"d":21},{"x":125,"y":135,"d":31},{"x":135,"y":135,"d":41},{"x":145,"y":135,"d":51},{"x":155,"y":135,"d":61},{"x":165,"y":135,"d":71},{"x":175,"y":135,"d":81},{"x":185,"y":135,"d":91},{"x":195,"y":135,"d":101},
{"x":5,"y":145,"d":97},{"x":15,"y":145,"d":87},{"x":25,"y":145,"d":77},{"x":35,"y":145,"d":67},{"x":45,"y":145,"d":57},{"x":55,"y":145,"d":47},{"x":65,"y":145,"d":37},{"x":75,"y":145,"d":27},{"x":85,"y":145,"d":17},{"x":95,"y":145,"d":7},{"x":105,"y":145,"d":7},{"x":115,"y":145,"d":17},{"x":125,"y":145,"d":27},{"x":135,"y":145,"d":37},{"x":145,"y":145,"d":47},{"x":155,"y":145,"d":57},{"x":165,"y":145,"d":67},{"x":175,"y":145,"d":77},{"x":185,"y":145,"d":87},{"x":195,"y":145,"d":97},
{"x":5,"y":155,"d":97},{"x":15,"y":155,"d":87},{"x":25,"y":155,"d":77},{"x":35,"y":155,"d":67},{"x":45,"y":155,"d":57},{"x":55,"y":155,"d":47},{"x":65,"y":155,"d":37},{"x":75,"y":155,"d":27},{"x":85,"y":155,"d":17},{"x":95,"y":155,"d":7},{"x":105,"y":155,"d":7},{"x":115,"y":155,"d":17},{"x":125,"y":155,"d":27},{"x":135,"y":155,"d":37},{"x":145,"y":155,"d":47},{"x":155,"y":155,"d":57},{"x":165,"y":155,"d":67},{"x":175,"y":155,"d":77},{"x":185,"y":155,"d":87},{"x":195,"y":155,"d":97},
{"x":5,"y":165,"d":101},{"x":15,"y":165,"d":91},{"x":25,"y":165,"d":81},{"x":35,"y":165,"d":71},{"x":45,"y":165,"d":61},{"x":55,"y":165,"d":51},{"x":65,"y":165,"d":41},{"x":75,"y":165,"d":31},{"x":85,"y":165,"d":21},{"x":95,"y":165,"d":17},{"x":105,"y":165,"d":17},{"x":115,"y":165,"d":21},{"x":125,"y":165,"d":31},{"x":135,"y":165,"d":41},{"x":145,"y":165,"d":51},{"x":155,"y":165,"d":61},{"x":165,"y":165,"d":71},{"x":175,"y":165,"d":81},{"x":185,"y":165,"d":91},{"x":195,"y":165,"d":101},
{"x":5,"y":175,"d":105},{"x":15,"y":175,"d":95},{"x":25,"y":175,"d":85},{"x":35,"y":175,"d":75},{"x":45,"y":175,"d":65},{"x":55,"y":175,"d":55},{"x":65,"y":175,"d":45},{"x":75,"y":175,"d":35},{"x":85,"y":175,"d":31},{"x":95,"y":175,"d":27},{"x":105,"y":175,"d":27},{"x":115,"y":175,"d":31},{"x":125,"y":175,"d":35},{"x":135,"y":175,"d":45},{"x":145,"y":175,"d":55},{"x":155,"y":175,"d":65},{"x":165,"y":175,"d":75},{"x":175,"y":175,"d":85},{"x":185,"y":175,"d":95},{"x":195,"y":175,"d":105},
{"x":5,"y":185,"d":110},{"x":15,"y":185,"d":100},{"x":25,"y":185,"d":90},{"x":35,"y":185,"d":80},{"x":45,"y":185,"d":70},{"x":55,"y":185,"d":60},{"x":65,"y":185,"d":50},{"x":75,"y":185,"d":45},{"x":85,"y":185,"d":41},{"x":95,"y":185,"d":37},{"x":105,"y":185,"d":37},{"x":115,"y":185,"d":41},{"x":125,"y":185,"d":45},{"x":135,"y":185,"d":50},{"x":145,"y":185,"d":60},{"x":155,"y":185,"d":70},{"x":165,"y":185,"d":80},{"x":175,"y":185,"d":90},{"x":185,"y":185,"d":100},{"x":195,"y":185,"d":110},
{"x":5,"y":195,"d":114},{"x":15,"y":195,"d":104},{"x":25,"y":195,"d":94},{"x":35,"y":195,"d":84},{"x":45,"y":195,"d":74},{"x":55,"y":195,"d":64},{"x":65,"y":195,"d":60},{"x":75,"y":195,"d":55},{"x":85,"y":195,"d":51},{"x":95,"y":195,"d":47},{"x":105,"y":195,"d":47},{"x":115,"y":195,"d":51},{"x":125,"y":195,"d":55},{"x":135,"y":195,"d":60},{"x":145,"y":195,"d":64},{"x":155,"y":195,"d":74},{"x":165,"y":195,"d":84},{"x":175,"y":195,"d":94},{"x":185,"y":195,"d":104},{"x":195,"y":195,"d":114}
],
"kE":[
{"g":"A10","L":10,"i":0,"x":60,"y":50},{"g":"A10","L":10,"i":1,"x":58.7,"y":55},{"g":"A10","L":10,"i":2,"x":55,"y":58.7},{"g":"A10","L":10,"i":3,"x":50,"y":60},{"g":"A10","L":10,"i":4,"x":45,"y":58.7},{"g":"A10","L":10,"i":5,"x":41.3,"y":55},{"g":"A10","L":10,"i":6,"x":40,"y":50},{"g":"A10","L":10,"i":7,"x":41.3,"y":45},{"g":"A10","L":10,"i":8,"x":45,"y":41.3},{"g":"A10","L":10,"i":9,"x":50,"y":40},{"g":"A10","L":10,"i":10,"x":55,"y":41.3},{"g":"A10","L":10,"i":11,"x":58.7,"y":45},
{"g":"A20","L":20,"i":0,"x":70,"y":50},{"g":"A20","L":20,"i":1,"x":67.3,"y":60},{"g":"A20","L":20,"i":2,"x":60,"y":67.3},{"g":"A20","L":20,"i":3,"x":50,"y":70},{"g":"A20","L":20,"i":4,"x":40,"y":67.3},{"g":"A20","L":20,"i":5,"x":32.7,"y":60},{"g":"A20","L":20,"i":6,"x":30,"y":50},{"g":"A20","L":20,"i":7,"x":32.7,"y":40},{"g":"A20","L":20,"i":8,"x":40,"y":32.7},{"g":"A20","L":20,"i":9,"x":50,"y":30},{"g":"A20","L":20,"i":10,"x":60,"y":32.7},{"g":"A20","L":20,"i":11,"x":67.3,"y":40},
{"g":"A30","L":30,"i":0,"x":80,"y":50},{"g":"A30","L":30,"i":1,"x":76,"y":65},{"g":"A30","L":30,"i":2,"x":65,"y":76},{"g":"A30","L":30,"i":3,"x":50,"y":80},{"g":"A30","L":30,"i":4,"x":35,"y":76},{"g":"A30","L":30,"i":5,"x":24,"y":65},{"g":"A30","L":30,"i":6,"x":20,"y":50},{"g":"A30","L":30,"i":7,"x":24,"y":35},{"g":"A30","L":30,"i":8,"x":35,"y":24},{"g":"A30","L":30,"i":9,"x":50,"y":20},{"g":"A30","L":30,"i":10,"x":65,"y":24},{"g":"A30","L":30,"i":11,"x":76,"y":35},
{"g":"A40","L":40,"i":0,"x":90,"y":50},{"g":"A40","L":40,"i":1,"x":84.6,"y":70},{"g":"A40","L":40,"i":2,"x":70,"y":84.6},{"g":"A40","L":40,"i":3,"x":50,"y":90},{"g":"A40","L":40,"i":4,"x":30,"y":84.6},{"g":"A40","L":40,"i":5,"x":15.4,"y":70},{"g":"A40","L":40,"i":6,"x":10,"y":50},{"g":"A40","L":40,"i":7,"x":15.4,"y":30},{"g":"A40","L":40,"i":8,"x":30,"y":15.4},{"g":"A40","L":40,"i":9,"x":50,"y":10},{"g":"A40","L":40,"i":10,"x":70,"y":15.4},{"g":"A40","L":40,"i":11,"x":84.6,"y":30},
{"g":"A50","L":50,"i":0,"x":100,"y":50},{"g":"A50","L":50,"i":1,"x":93.3,"y":75},{"g":"A50","L":50,"i":2,"x":75,"y":93.3},{"g":"A50","L":50,"i":3,"x":50,"y":100},{"g":"A50","L":50,"i":4,"x":25,"y":93.3},{"g":"A50","L":50,"i":5,"x":6.7,"y":75},{"g":"A50","L":50,"i":6,"x":0,"y":50},{"g":"A50","L":50,"i":7,"x":6.7,"y":25},{"g":"A50","L":50,"i":8,"x":25,"y":6.7},{"g":"A50","L":50,"i":9,"x":50,"y":0},{"g":"A50","L":50,"i":10,"x":75,"y":6.7},{"g":"A50","L":50,"i":11,"x":93.3,"y":25},
{"g":"B10","L":10,"i":0,"x":160,"y":50},{"g":"B10","L":10,"i":1,"x":158.7,"y":55},{"g":"B10","L":10,"i":2,"x":155,"y":58.7},{"g":"B10","L":10,"i":3,"x":150,"y":60},{"g":"B10","L":10,"i":4,"x":145,"y":58.7},{"g":"B10","L":10,"i":5,"x":141.3,"y":55},{"g":"B10","L":10,"i":6,"x":140,"y":50},{"g":"B10","L":10,"i":7,"x":141.3,"y":45},{"g":"B10","L":10,"i":8,"x":145,"y":41.3},{"g":"B10","L":10,"i":9,"x":150,"y":40},{"g":"B10","L":10,"i":10,"x":155,"y":41.3},{"g":"B10","L":10,"i":11,"x":158.7,"y":45},
{"g":"B20","L":20,"i":0,"x":170,"y":50},{"g":"B20","L":20,"i":1,"x":167.3,"y":60},{"g":"B20","L":20,"i":2,"x":160,"y":67.3},{"g":"B20","L":20,"i":3,"x":150,"y":70},{"g":"B20","L":20,"i":4,"x":140,"y":67.3},{"g":"B20","L":20,"i":5,"x":132.7,"y":60},{"g":"B20","L":20,"i":6,"x":130,"y":50},{"g":"B20","L":20,"i":7,"x":132.7,"y":40},{"g":"B20","L":20,"i":8,"x":140,"y":32.7},{"g":"B20","L":20,"i":9,"x":150,"y":30},{"g":"B20","L":20,"i":10,"x":160,"y":32.7},{"g":"B20","L":20,"i":11,"x":167.3,"y":40},
{"g":"B30","L":30,"i":0,"x":180,"y":50},{"g":"B30","L":30,"i":1,"x":176,"y":65},{"g":"B30","L":30,"i":2,"x":165,"y":76},{"g":"B30","L":30,"i":3,"x":150,"y":80},{"g":"B30","L":30,"i":4,"x":135,"y":76},{"g":"B30","L":30,"i":5,"x":124,"y":65},{"g":"B30","L":30,"i":6,"x":120,"y":50},{"g":"B30","L":30,"i":7,"x":124,"y":35},{"g":"B30","L":30,"i":8,"x":135,"y":24},{"g":"B30","L":30,"i":9,"x":150,"y":20},{"g":"B30","L":30,"i":10,"x":165,"y":24},{"g":"B30","L":30,"i":11,"x":176,"y":35},
{"g":"B40","L":40,"i":0,"x":190,"y":50},{"g":"B40","L":40,"i":1,"x":184.6,"y":70},{"g":"B40","L":40,"i":2,"x":170,"y":84.6},{"g":"B40","L":40,"i":3,"x":150,"y":90},{"g":"B40","L":40,"i":4,"x":130,"y":84.6},{"g":"B40","L":40,"i":5,"x":115.4,"y":70},{"g":"B40","L":40,"i":6,"x":110,"y":50},{"g":"B40","L":40,"i":7,"x":115.4,"y":30},{"g":"B40","L":40,"i":8,"x":130,"y":15.4},{"g":"B40","L":40,"i":9,"x":150,"y":10},{"g":"B40","L":40,"i":10,"x":170,"y":15.4},{"g":"B40","L":40,"i":11,"x":184.6,"y":30},
{"g":"B50","L":50,"i":0,"x":200,"y":50},{"g":"B50","L":50,"i":1,"x":193.3,"y":75},{"g":"B50","L":50,"i":2,"x":175,"y":93.3},{"g":"B50","L":50,"i":3,"x":150,"y":100},{"g":"B50","L":50,"i":4,"x":125,"y":93.3},{"g":"B50","L":50,"i":5,"x":106.7,"y":75},{"g":"B50","L":50,"i":6,"x":100,"y":50},{"g":"B50","L":50,"i":7,"x":106.7,"y":25},{"g":"B50","L":50,"i":8,"x":125,"y":6.7},{"g":"B50","L":50,"i":9,"x":150,"y":0},{"g":"B50","L":50,"i":10,"x":175,"y":6.7},{"g":"B50","L":50,"i":11,"x":193.3,"y":25},
{"g":"C10","L":10,"i":0,"x":110,"y":150},{"g":"C10","L":10,"i":1,"x":108.7,"y":155},{"g":"C10","L":10,"i":2,"x":105,"y":158.7},{"g":"C10","L":10,"i":3,"x":100,"y":160},{"g":"C10","L":10,"i":4,"x":95,"y":158.7},{"g":"C10","L":10,"i":5,"x":91.3,"y":155},{"g":"C10","L":10,"i":6,"x":90,"y":150},{"g":"C10","L":10,"i":7,"x":91.3,"y":145},{"g":"C10","L":10,"i":8,"x":95,"y":141.3},{"g":"C10","L":10,"i":9,"x":100,"y":140},{"g":"C10","L":10,"i":10,"x":105,"y":141.3},{"g":"C10","L":10,"i":11,"x":108.7,"y":145},
{"g":"C20","L":20,"i":0,"x":120,"y":150},{"g":"C20","L":20,"i":1,"x":117.3,"y":160},{"g":"C20","L":20,"i":2,"x":110,"y":167.3},{"g":"C20","L":20,"i":3,"x":100,"y":170},{"g":"C20","L":20,"i":4,"x":90,"y":167.3},{"g":"C20","L":20,"i":5,"x":82.7,"y":160},{"g":"C20","L":20,"i":6,"x":80,"y":150},{"g":"C20","L":20,"i":7,"x":82.7,"y":140},{"g":"C20","L":20,"i":8,"x":90,"y":132.7},{"g":"C20","L":20,"i":9,"x":100,"y":130},{"g":"C20","L":20,"i":10,"x":110,"y":132.7},{"g":"C20","L":20,"i":11,"x":117.3,"y":140},
{"g":"C30","L":30,"i":0,"x":130,"y":150},{"g":"C30","L":30,"i":1,"x":126,"y":165},{"g":"C30","L":30,"i":2,"x":115,"y":176},{"g":"C30","L":30,"i":3,"x":100,"y":180},{"g":"C30","L":30,"i":4,"x":85,"y":176},{"g":"C30","L":30,"i":5,"x":74,"y":165},{"g":"C30","L":30,"i":6,"x":70,"y":150},{"g":"C30","L":30,"i":7,"x":74,"y":135},{"g":"C30","L":30,"i":8,"x":85,"y":124},{"g":"C30","L":30,"i":9,"x":100,"y":120},{"g":"C30","L":30,"i":10,"x":115,"y":124},{"g":"C30","L":30,"i":11,"x":126,"y":135},
{"g":"C40","L":40,"i":0,"x":140,"y":150},{"g":"C40","L":40,"i":1,"x":134.6,"y":170},{"g":"C40","L":40,"i":2,"x":120,"y":184.6},{"g":"C40","L":40,"i":3,"x":100,"y":190},{"g":"C40","L":40,"i":4,"x":80,"y":184.6},{"g":"C40","L":40,"i":5,"x":65.4,"y":170},{"g":"C40","L":40,"i":6,"x":60,"y":150},{"g":"C40","L":40,"i":7,"x":65.4,"y":130},{"g":"C40","L":40,"i":8,"x":80,"y":115.4},{"g":"C40","L":40,"i":9,"x":100,"y":110},{"g":"C40","L":40,"i":10,"x":120,"y":115.4},{"g":"C40","L":40,"i":11,"x":134.6,"y":130},
{"g":"C50","L":50,"i":0,"x":150,"y":150},{"g":"C50","L":50,"i":1,"x":143.3,"y":175},{"g":"C50","L":50,"i":2,"x":125,"y":193.3},{"g":"C50","L":50,"i":3,"x":100,"y":200},{"g":"C50","L":50,"i":4,"x":75,"y":193.3},{"g":"C50","L":50,"i":5,"x":56.7,"y":175},{"g":"C50","L":50,"i":6,"x":50,"y":150},{"g":"C50","L":50,"i":7,"x":56.7,"y":125},{"g":"C50","L":50,"i":8,"x":75,"y":106.7},{"g":"C50","L":50,"i":9,"x":100,"y":100},{"g":"C50","L":50,"i":10,"x":125,"y":106.7},{"g":"C50","L":50,"i":11,"x":143.3,"y":125}
],
"oE":[
{"g":"e60a","L":60,"i":0,"x":0,"y":16.8},{"g":"e60a","L":60,"i":1,"x":7.6,"y":7.6},{"g":"e60a","L":60,"i":2,"x":16.8,"y":0},
{"g":"e60b","L":60,"i":0,"x":200,"y":16.8},{"g":"e60b","L":60,"i":1,"x":192.4,"y":7.6},{"g":"e60b","L":60,"i":2,"x":183.2,"y":0},
{"g":"e60c","L":60,"i":0,"x":83.2,"y":0},{"g":"e60c","L":60,"i":1,"x":92.4,"y":7.6},{"g":"e60c","L":60,"i":2,"x":100,"y":16.8},{"g":"e60c","L":60,"i":3,"x":107.6,"y":7.6},{"g":"e60c","L":60,"i":4,"x":116.8,"y":0},
{"g":"e60d","L":60,"i":0,"x":100,"y":83.2},{"g":"e60d","L":60,"i":1,"x":94.5,"y":90.3},{"g":"e60d","L":60,"i":2,"x":100,"y":90},{"g":"e60d","L":60,"i":3,"x":105.5,"y":90.3},{"g":"e60d","L":60,"i":4,"x":100,"y":83.2},
{"g":"e60e","L":60,"i":0,"x":0,"y":83.2},{"g":"e60e","L":60,"i":1,"x":11.4,"y":96},{"g":"e60e","L":60,"i":2,"x":24.6,"y":104.4},{"g":"e60e","L":60,"i":3,"x":39.6,"y":109.1},{"g":"e60e","L":60,"i":4,"x":55.5,"y":109.8},{"g":"e60e","L":60,"i":5,"x":49.7,"y":117.3},{"g":"e60e","L":60,"i":6,"x":45.6,"y":124.6},{"g":"e60e","L":60,"i":7,"x":40.2,"y":144.8},{"g":"e60e","L":60,"i":8,"x":42,"y":165.5},{"g":"e60e","L":60,"i":9,"x":50.9,"y":184.4},{"g":"e60e","L":60,"i":10,"x":66.8,"y":200},
{"g":"e60f","L":60,"i":0,"x":200,"y":83.2},{"g":"e60f","L":60,"i":1,"x":188.6,"y":96},{"g":"e60f","L":60,"i":2,"x":175.4,"y":104.4},{"g":"e60f","L":60,"i":3,"x":160.4,"y":109.1},{"g":"e60f","L":60,"i":4,"x":144.5,"y":109.8},{"g":"e60f","L":60,"i":5,"x":150.3,"y":117.3},{"g":"e60f","L":60,"i":6,"x":154.4,"y":124.6},{"g":"e60f","L":60,"i":7,"x":159.8,"y":144.8},{"g":"e60f","L":60,"i":8,"x":158,"y":165.5},{"g":"e60f","L":60,"i":9,"x":149.1,"y":184.4},{"g":"e60f","L":60,"i":10,"x":133.2,"y":200},
{"g":"e70a","L":70,"i":0,"x":99,"y":0},{"g":"e70a","L":70,"i":1,"x":100,"y":1},{"g":"e70a","L":70,"i":2,"x":101,"y":0},
{"g":"e70b","L":70,"i":0,"x":0,"y":99},{"g":"e70b","L":70,"i":1,"x":17.1,"y":111.8},{"g":"e70b","L":70,"i":2,"x":37.4,"y":118.8},{"g":"e70b","L":70,"i":3,"x":33.4,"y":128.4},{"g":"e70b","L":70,"i":4,"x":31.1,"y":137.8},{"g":"e70b","L":70,"i":5,"x":30,"y":150},{"g":"e70b","L":70,"i":6,"x":31.1,"y":162.2},{"g":"e70b","L":70,"i":7,"x":39.4,"y":185},{"g":"e70b","L":70,"i":8,"x":51,"y":200},
{"g":"e70c","L":70,"i":0,"x":200,"y":99},{"g":"e70c","L":70,"i":1,"x":182.9,"y":111.8},{"g":"e70c","L":70,"i":2,"x":162.6,"y":118.8},{"g":"e70c","L":70,"i":3,"x":166.6,"y":128.4},{"g":"e70c","L":70,"i":4,"x":168.9,"y":137.8},{"g":"e70c","L":70,"i":5,"x":170,"y":150},{"g":"e70c","L":70,"i":6,"x":168.9,"y":162.2},{"g":"e70c","L":70,"i":7,"x":160.6,"y":185},{"g":"e70c","L":70,"i":8,"x":149,"y":200},
{"g":"e80a","L":80,"i":0,"x":0,"y":112.4},{"g":"e80a","L":80,"i":1,"x":10,"y":119.3},{"g":"e80a","L":80,"i":2,"x":23.9,"y":125.6},{"g":"e80a","L":80,"i":3,"x":21,"y":137.5},{"g":"e80a","L":80,"i":4,"x":20,"y":150},{"g":"e80a","L":80,"i":5,"x":24.8,"y":177.4},{"g":"e80a","L":80,"i":6,"x":37.6,"y":200},
{"g":"e80b","L":80,"i":0,"x":200,"y":112.4},{"g":"e80b","L":80,"i":1,"x":190,"y":119.3},{"g":"e80b","L":80,"i":2,"x":176.1,"y":125.6},{"g":"e80b","L":80,"i":3,"x":179,"y":137.5},{"g":"e80b","L":80,"i":4,"x":180,"y":150},{"g":"e80b","L":80,"i":5,"x":175.2,"y":177.4},{"g":"e80b","L":80,"i":6,"x":162.4,"y":200},
{"g":"e90a","L":90,"i":0,"x":0,"y":124.8},{"g":"e90a","L":90,"i":1,"x":11.9,"y":131.5},{"g":"e90a","L":90,"i":2,"x":10.5,"y":140.6},{"g":"e90a","L":90,"i":3,"x":10,"y":150},{"g":"e90a","L":90,"i":4,"x":13.1,"y":173.3},{"g":"e90a","L":90,"i":5,"x":25.2,"y":200},
{"g":"e90b","L":90,"i":0,"x":200,"y":124.8},{"g":"e90b","L":90,"i":1,"x":188.1,"y":131.5},{"g":"e90b","L":90,"i":2,"x":189.5,"y":140.6},{"g":"e90b","L":90,"i":3,"x":190,"y":150},{"g":"e90b","L":90,"i":4,"x":186.9,"y":173.3},{"g":"e90b","L":90,"i":5,"x":174.8,"y":200},
{"g":"e100a","L":100,"i":0,"x":0,"y":136.6},{"g":"e100a","L":100,"i":1,"x":0.9,"y":137.1},{"g":"e100a","L":100,"i":2,"x":0.3,"y":150},{"g":"e100a","L":100,"i":3,"x":1.5,"y":167.4},{"g":"e100a","L":100,"i":4,"x":6,"y":184.2},{"g":"e100a","L":100,"i":5,"x":13.4,"y":200},
{"g":"e100b","L":100,"i":0,"x":200,"y":136.6},{"g":"e100b","L":100,"i":1,"x":199.1,"y":137.1},{"g":"e100b","L":100,"i":2,"x":199.7,"y":150},{"g":"e100b","L":100,"i":3,"x":198.5,"y":167.4},{"g":"e100b","L":100,"i":4,"x":194,"y":184.2},{"g":"e100b","L":100,"i":5,"x":186.6,"y":200},
{"g":"e110a","L":110,"i":0,"x":0,"y":195.8},{"g":"e110a","L":110,"i":1,"x":2,"y":200},
{"g":"e110b","L":110,"i":0,"x":200,"y":195.8},{"g":"e110b","L":110,"i":1,"x":198,"y":200}
],
"kC":[
{"g":"A20","L":20,"i":0,"x":70,"y":50},{"g":"A20","L":20,"i":1,"x":50,"y":70},{"g":"A20","L":20,"i":2,"x":30,"y":50},{"g":"A20","L":20,"i":3,"x":50,"y":30},
{"g":"A40","L":40,"i":0,"x":90,"y":50},{"g":"A40","L":40,"i":1,"x":50,"y":90},{"g":"A40","L":40,"i":2,"x":10,"y":50},{"g":"A40","L":40,"i":3,"x":50,"y":10},
{"g":"B20","L":20,"i":0,"x":170,"y":50},{"g":"B20","L":20,"i":1,"x":150,"y":70},{"g":"B20","L":20,"i":2,"x":130,"y":50},{"g":"B20","L":20,"i":3,"x":150,"y":30},
{"g":"B40","L":40,"i":0,"x":190,"y":50},{"g":"B40","L":40,"i":1,"x":150,"y":90},{"g":"B40","L":40,"i":2,"x":110,"y":50},{"g":"B40","L":40,"i":3,"x":150,"y":10},
{"g":"C20","L":20,"i":0,"x":120,"y":150},{"g":"C20","L":20,"i":1,"x":100,"y":170},{"g":"C20","L":20,"i":2,"x":80,"y":150},{"g":"C20","L":20,"i":3,"x":100,"y":130},
{"g":"C40","L":40,"i":0,"x":140,"y":150},{"g":"C40","L":40,"i":1,"x":100,"y":190},{"g":"C40","L":40,"i":2,"x":60,"y":150},{"g":"C40","L":40,"i":3,"x":100,"y":110}
],
"oC":[
{"g":"c60a","L":60,"i":0,"x":0,"y":40},{"g":"c60a","L":60,"i":1,"x":40,"y":0},
{"g":"c60b","L":60,"i":0,"x":160,"y":0},{"g":"c60b","L":60,"i":1,"x":200,"y":40},
{"g":"c60c","L":60,"i":0,"x":60,"y":0},{"g":"c60c","L":60,"i":1,"x":100,"y":40},{"g":"c60c","L":60,"i":2,"x":140,"y":0},
{"g":"c60d","L":60,"i":0,"x":0,"y":60},{"g":"c60d","L":60,"i":1,"x":50,"y":110},{"g":"c60d","L":60,"i":2,"x":100,"y":60},{"g":"c60d","L":60,"i":3,"x":150,"y":110},{"g":"c60d","L":60,"i":4,"x":200,"y":60},
{"g":"c60e","L":60,"i":0,"x":90,"y":200},{"g":"c60e","L":60,"i":1,"x":40,"y":150},{"g":"c60e","L":60,"i":2,"x":100,"y":90},{"g":"c60e","L":60,"i":3,"x":160,"y":150},{"g":"c60e","L":60,"i":4,"x":110,"y":200},
{"g":"c80a","L":80,"i":0,"x":0,"y":20},{"g":"c80a","L":80,"i":1,"x":20,"y":0},
{"g":"c80b","L":80,"i":0,"x":180,"y":0},{"g":"c80b","L":80,"i":1,"x":200,"y":20},
{"g":"c80c","L":80,"i":0,"x":80,"y":0},{"g":"c80c","L":80,"i":1,"x":100,"y":20},{"g":"c80c","L":80,"i":2,"x":120,"y":0},
{"g":"c80d","L":80,"i":0,"x":0,"y":80},{"g":"c80d","L":80,"i":1,"x":45,"y":125},{"g":"c80d","L":80,"i":2,"x":20,"y":150},{"g":"c80d","L":80,"i":3,"x":70,"y":200},
{"g":"c80e","L":80,"i":0,"x":200,"y":80},{"g":"c80e","L":80,"i":1,"x":155,"y":125},{"g":"c80e","L":80,"i":2,"x":180,"y":150},{"g":"c80e","L":80,"i":3,"x":130,"y":200},
{"g":"c100a","L":100,"i":0,"x":0,"y":100},{"g":"c100a","L":100,"i":1,"x":25,"y":125},{"g":"c100a","L":100,"i":2,"x":0,"y":150},{"g":"c100a","L":100,"i":3,"x":50,"y":200},
{"g":"c100b","L":100,"i":0,"x":200,"y":100},{"g":"c100b","L":100,"i":1,"x":175,"y":125},{"g":"c100b","L":100,"i":2,"x":200,"y":150},{"g":"c100b","L":100,"i":3,"x":150,"y":200},
{"g":"c120a","L":120,"i":0,"x":0,"y":120},{"g":"c120a","L":120,"i":1,"x":5,"y":125},{"g":"c120a","L":120,"i":2,"x":0,"y":130},
{"g":"c120b","L":120,"i":0,"x":0,"y":170},{"g":"c120b","L":120,"i":1,"x":30,"y":200},
{"g":"c120c","L":120,"i":0,"x":200,"y":120},{"g":"c120c","L":120,"i":1,"x":195,"y":125},{"g":"c120c","L":120,"i":2,"x":200,"y":130},
{"g":"c120d","L":120,"i":0,"x":200,"y":170},{"g":"c120d","L":120,"i":1,"x":170,"y":200},
{"g":"c140a","L":140,"i":0,"x":0,"y":190},{"g":"c140a","L":140,"i":1,"x":10,"y":200},
{"g":"c140b","L":140,"i":0,"x":200,"y":190},{"g":"c140b","L":140,"i":1,"x":190,"y":200}
],
"kS":[
{"g":"A10","L":10,"i":0,"x":40,"y":40},{"g":"A10","L":10,"i":1,"x":60,"y":40},{"g":"A10","L":10,"i":2,"x":60,"y":60},{"g":"A10","L":10,"i":3,"x":40,"y":60},
{"g":"A20","L":20,"i":0,"x":30,"y":30},{"g":"A20","L":20,"i":1,"x":70,"y":30},{"g":"A20","L":20,"i":2,"x":70,"y":70},{"g":"A20","L":20,"i":3,"x":30,"y":70},
{"g":"A30","L":30,"i":0,"x":20,"y":20},{"g":"A30","L":30,"i":1,"x":80,"y":20},{"g":"A30","L":30,"i":2,"x":80,"y":80},{"g":"A30","L":30,"i":3,"x":20,"y":80},
{"g":"A40","L":40,"i":0,"x":10,"y":10},{"g":"A40","L":40,"i":1,"x":90,"y":10},{"g":"A40","L":40,"i":2,"x":90,"y":90},{"g":"A40","L":40,"i":3,"x":10,"y":90},
{"g":"B10","L":10,"i":0,"x":140,"y":40},{"g":"B10","L":10,"i":1,"x":160,"y":40},{"g":"B10","L":10,"i":2,"x":160,"y":60},{"g":"B10","L":10,"i":3,"x":140,"y":60},
{"g":"B20","L":20,"i":0,"x":130,"y":30},{"g":"B20","L":20,"i":1,"x":170,"y":30},{"g":"B20","L":20,"i":2,"x":170,"y":70},{"g":"B20","L":20,"i":3,"x":130,"y":70},
{"g":"B30","L":30,"i":0,"x":120,"y":20},{"g":"B30","L":30,"i":1,"x":180,"y":20},{"g":"B30","L":30,"i":2,"x":180,"y":80},{"g":"B30","L":30,"i":3,"x":120,"y":80},
{"g":"B40","L":40,"i":0,"x":110,"y":10},{"g":"B40","L":40,"i":1,"x":190,"y":10},{"g":"B40","L":40,"i":2,"x":190,"y":90},{"g":"B40","L":40,"i":3,"x":110,"y":90},
{"g":"C10","L":10,"i":0,"x":90,"y":140},{"g":"C10","L":10,"i":1,"x":110,"y":140},{"g":"C10","L":10,"i":2,"x":110,"y":160},{"g":"C10","L":10,"i":3,"x":90,"y":160},
{"g":"C20","L":20,"i":0,"x":80,"y":130},{"g":"C20","L":20,"i":1,"x":120,"y":130},{"g":"C20","L":20,"i":2,"x":120,"y":170},{"g":"C20","L":20,"i":3,"x":80,"y":170},
{"g":"C30","L":30,"i":0,"x":70,"y":120},{"g":"C30","L":30,"i":1,"x":130,"y":120},{"g":"C30","L":30,"i":2,"x":130,"y":180},{"g":"C30","L":30,"i":3,"x":70,"y":180},
{"g":"C40","L":40,"i":0,"x":60,"y":110},{"g":"C40","L":40,"i":1,"x":140,"y":110},{"g":"C40","L":40,"i":2,"x":140,"y":190},{"g":"C40","L":40,"i":3,"x":60,"y":190}
],
"oS":[
{"g":"s50a","L":50,"i":0,"x":0,"y":100},{"g":"s50a","L":50,"i":1,"x":200,"y":100},
{"g":"s50b","L":50,"i":0,"x":100,"y":0},{"g":"s50b","L":50,"i":1,"x":100,"y":100},
{"g":"s50c","L":50,"i":0,"x":50,"y":100},{"g":"s50c","L":50,"i":1,"x":50,"y":199},{"g":"s50c","L":50,"i":2,"x":150,"y":199},{"g":"s50c","L":50,"i":3,"x":150,"y":100},
{"g":"s60a","L":60,"i":0,"x":0,"y":110},{"g":"s60a","L":60,"i":1,"x":40,"y":110},{"g":"s60a","L":60,"i":2,"x":40,"y":200},
{"g":"s60b","L":60,"i":0,"x":200,"y":110},{"g":"s60b","L":60,"i":1,"x":160,"y":110},{"g":"s60b","L":60,"i":2,"x":160,"y":200},
{"g":"s70a","L":70,"i":0,"x":0,"y":120},{"g":"s70a","L":70,"i":1,"x":30,"y":120},{"g":"s70a","L":70,"i":2,"x":30,"y":200},
{"g":"s70b","L":70,"i":0,"x":200,"y":120},{"g":"s70b","L":70,"i":1,"x":170,"y":120},{"g":"s70b","L":70,"i":2,"x":170,"y":200},
{"g":"s80a","L":80,"i":0,"x":0,"y":130},{"g":"s80a","L":80,"i":1,"x":20,"y":130},{"g":"s80a","L":80,"i":2,"x":20,"y":200},
{"g":"s80b","L":80,"i":0,"x":200,"y":130},{"g":"s80b","L":80,"i":1,"x":180,"y":130},{"g":"s80b","L":80,"i":2,"x":180,"y":200},
{"g":"s90a","L":90,"i":0,"x":0,"y":140},{"g":"s90a","L":90,"i":1,"x":10,"y":140},{"g":"s90a","L":90,"i":2,"x":10,"y":200},
{"g":"s90b","L":90,"i":0,"x":200,"y":140},{"g":"s90b","L":90,"i":1,"x":190,"y":140},{"g":"s90b","L":90,"i":2,"x":190,"y":200}
],
"kQ":[
{"g":"A20","L":20,"i":0,"x":70,"y":50},{"g":"A20","L":20,"i":1,"x":64.1,"y":64.1},{"g":"A20","L":20,"i":2,"x":50,"y":70},{"g":"A20","L":20,"i":3,"x":35.9,"y":64.1},{"g":"A20","L":20,"i":4,"x":30,"y":50},{"g":"A20","L":20,"i":5,"x":35.9,"y":35.9},{"g":"A20","L":20,"i":6,"x":50,"y":30},{"g":"A20","L":20,"i":7,"x":64.1,"y":35.9},
{"g":"B20","L":20,"i":0,"x":170,"y":50},{"g":"B20","L":20,"i":1,"x":164.1,"y":64.1},{"g":"B20","L":20,"i":2,"x":150,"y":70},{"g":"B20","L":20,"i":3,"x":135.9,"y":64.1},{"g":"B20","L":20,"i":4,"x":130,"y":50},{"g":"B20","L":20,"i":5,"x":135.9,"y":35.9},{"g":"B20","L":20,"i":6,"x":150,"y":30},{"g":"B20","L":20,"i":7,"x":164.1,"y":35.9},
{"g":"C20","L":20,"i":0,"x":120,"y":150},{"g":"C20","L":20,"i":1,"x":114.1,"y":164.1},{"g":"C20","L":20,"i":2,"x":100,"y":170},{"g":"C20","L":20,"i":3,"x":85.9,"y":164.1},{"g":"C20","L":20,"i":4,"x":80,"y":150},{"g":"C20","L":20,"i":5,"x":85.9,"y":135.9},{"g":"C20","L":20,"i":6,"x":100,"y":130},{"g":"C20","L":20,"i":7,"x":114.1,"y":135.9},
{"g":"A40","L":40,"i":0,"x":90,"y":50},{"g":"A40","L":40,"i":1,"x":78.3,"y":78.3},{"g":"A40","L":40,"i":2,"x":50,"y":90},{"g":"A40","L":40,"i":3,"x":21.7,"y":78.3},{"g":"A40","L":40,"i":4,"x":10,"y":50},{"g":"A40","L":40,"i":5,"x":21.7,"y":21.7},{"g":"A40","L":40,"i":6,"x":50,"y":10},{"g":"A40","L":40,"i":7,"x":78.3,"y":21.7},
{"g":"B40","L":40,"i":0,"x":190,"y":50},{"g":"B40","L":40,"i":1,"x":178.3,"y":78.3},{"g":"B40","L":40,"i":2,"x":150,"y":90},{"g":"B40","L":40,"i":3,"x":121.7,"y":78.3},{"g":"B40","L":40,"i":4,"x":110,"y":50},{"g":"B40","L":40,"i":5,"x":121.7,"y":21.7},{"g":"B40","L":40,"i":6,"x":150,"y":10},{"g":"B40","L":40,"i":7,"x":178.3,"y":21.7},
{"g":"C40","L":40,"i":0,"x":140,"y":150},{"g":"C40","L":40,"i":1,"x":128.3,"y":178.3},{"g":"C40","L":40,"i":2,"x":100,"y":190},{"g":"C40","L":40,"i":3,"x":71.7,"y":178.3},{"g":"C40","L":40,"i":4,"x":60,"y":150},{"g":"C40","L":40,"i":5,"x":71.7,"y":121.7},{"g":"C40","L":40,"i":6,"x":100,"y":110},{"g":"C40","L":40,"i":7,"x":128.3,"y":121.7}
],
"oQ":[
{"g":"q60a","L":60,"i":0,"x":0,"y":25.9},{"g":"q60a","L":60,"i":1,"x":7.6,"y":7.6},{"g":"q60a","L":60,"i":2,"x":25.9,"y":0},
{"g":"q60b","L":60,"i":0,"x":200,"y":25.9},{"g":"q60b","L":60,"i":1,"x":192.4,"y":7.6},{"g":"q60b","L":60,"i":2,"x":174.1,"y":0},
{"g":"q60c","L":60,"i":0,"x":74.1,"y":0},{"g":"q60c","L":60,"i":1,"x":92.4,"y":7.6},{"g":"q60c","L":60,"i":2,"x":100,"y":25.9},{"g":"q60c","L":60,"i":3,"x":107.6,"y":7.6},{"g":"q60c","L":60,"i":4,"x":125.9,"y":0},
{"g":"q60d","L":60,"i":0,"x":0,"y":74.1},{"g":"q60d","L":60,"i":1,"x":7.6,"y":92.4},{"g":"q60d","L":60,"i":2,"x":50,"y":110},{"g":"q60d","L":60,"i":3,"x":92.4,"y":92.4},{"g":"q60d","L":60,"i":4,"x":100,"y":74.1},{"g":"q60d","L":60,"i":5,"x":107.6,"y":92.4},{"g":"q60d","L":60,"i":6,"x":150,"y":110},{"g":"q60d","L":60,"i":7,"x":192.4,"y":92.4},{"g":"q60d","L":60,"i":8,"x":200,"y":74.1},
{"g":"q60e","L":60,"i":0,"x":75.9,"y":200},{"g":"q60e","L":60,"i":1,"x":57.6,"y":192.4},{"g":"q60e","L":60,"i":2,"x":40,"y":150},{"g":"q60e","L":60,"i":3,"x":57.6,"y":107.6},{"g":"q60e","L":60,"i":4,"x":100,"y":90},{"g":"q60e","L":60,"i":5,"x":142.4,"y":107.6},{"g":"q60e","L":60,"i":6,"x":160,"y":150},{"g":"q60e","L":60,"i":7,"x":142.4,"y":192.4},{"g":"q60e","L":60,"i":8,"x":124.1,"y":200},
{"g":"q80a","L":80,"i":0,"x":0,"y":109.3},{"g":"q80a","L":80,"i":1,"x":31.5,"y":122.3},{"g":"q80a","L":80,"i":2,"x":20,"y":150},{"g":"q80a","L":80,"i":3,"x":40.7,"y":200},
{"g":"q80b","L":80,"i":0,"x":200,"y":109.3},{"g":"q80b","L":80,"i":1,"x":168.5,"y":122.3},{"g":"q80b","L":80,"i":2,"x":180,"y":150},{"g":"q80b","L":80,"i":3,"x":159.3,"y":200},
{"g":"q100a","L":100,"i":0,"x":0,"y":129.3},{"g":"q100a","L":100,"i":1,"x":7.3,"y":132.3},{"g":"q100a","L":100,"i":2,"x":0.5,"y":150},{"g":"q100a","L":100,"i":3,"x":20.7,"y":200},
{"g":"q100b","L":100,"i":0,"x":200,"y":129.3},{"g":"q100b","L":100,"i":1,"x":192.7,"y":132.3},{"g":"q100b","L":100,"i":2,"x":199.5,"y":150},{"g":"q100b","L":100,"i":3,"x":179.3,"y":200}
]
},
"concat":[
{"width":118,"height":118,"title":"Euclidean",
"layer":[
{"data":{"name":"gE"},"mark":{"type":"square","size":44,"opacity":1,"strokeWidth":0},
"encoding":{"x":{"field":"x","type":"quantitative","scale":{"domain":[0,200],"nice":false,"zero":false},"axis":{"values":[100,200],"title":null,"labelOverlap":false}},
"y":{"field":"y","type":"quantitative","scale":{"domain":[0,200],"nice":false,"zero":false,"reverse":true},"axis":{"values":[50,100,150,200],"title":null,"labelOverlap":false}},
"fill":{"field":"d","type":"quantitative","scale":{"domain":[0,112],"range":["#000000","#ffffff"],"interpolate":"rgb"},"legend":null}}},
{"data":{"name":"kE"},"mark":{"type":"line","interpolate":"cardinal-closed","strokeWidth":1.2,"clip":true},
"encoding":{"x":{"field":"x","type":"quantitative","axis":{"values":[100,200],"title":null,"labelOverlap":false}},"y":{"field":"y","type":"quantitative","axis":{"values":[50,100,150,200],"title":null,"labelOverlap":false}},"detail":{"field":"g","type":"nominal"},"order":{"field":"i","type":"quantitative"},
"stroke":{"field":"L","type":"ordinal","scale":{"domain":[10,20,30,40,50,60,70,80,90,100,110],"range":["#0000db","#0037ff","#0092ff","#00edff","#49ffb6","#a4ff5b","#ffff00","#ffa400","#ff4900","#ed0000","#920000"]},"legend":null}}},
{"data":{"name":"oE"},"mark":{"type":"line","interpolate":"linear","strokeWidth":1.2,"clip":true},
"encoding":{"x":{"field":"x","type":"quantitative","axis":{"values":[100,200],"title":null,"labelOverlap":false}},"y":{"field":"y","type":"quantitative","axis":{"values":[50,100,150,200],"title":null,"labelOverlap":false}},"detail":{"field":"g","type":"nominal"},"order":{"field":"i","type":"quantitative"},
"stroke":{"field":"L","type":"ordinal","scale":{"domain":[10,20,30,40,50,60,70,80,90,100,110],"range":["#0000db","#0037ff","#0092ff","#00edff","#49ffb6","#a4ff5b","#ffff00","#ffa400","#ff4900","#ed0000","#920000"]},"legend":null}}}
]},
{"width":118,"height":118,"title":"City block",
"layer":[
{"data":{"name":"gC"},"mark":{"type":"square","size":44,"opacity":1,"strokeWidth":0},
"encoding":{"x":{"field":"x","type":"quantitative","scale":{"domain":[0,200],"nice":false,"zero":false},"axis":{"values":[100,200],"title":null,"labelOverlap":false}},
"y":{"field":"y","type":"quantitative","scale":{"domain":[0,200],"nice":false,"zero":false,"reverse":true},"axis":{"values":[50,100,150,200],"title":null,"labelOverlap":false}},
"fill":{"field":"d","type":"quantitative","scale":{"domain":[0,150],"range":["#000000","#ffffff"],"interpolate":"rgb"},"legend":null}}},
{"data":{"name":"kC"},"mark":{"type":"line","interpolate":"linear-closed","strokeWidth":1.2,"clip":true},
"encoding":{"x":{"field":"x","type":"quantitative","axis":{"values":[100,200],"title":null,"labelOverlap":false}},"y":{"field":"y","type":"quantitative","axis":{"values":[50,100,150,200],"title":null,"labelOverlap":false}},"detail":{"field":"g","type":"nominal"},"order":{"field":"i","type":"quantitative"},
"stroke":{"field":"L","type":"ordinal","scale":{"domain":[20,40,60,80,100,120,140],"range":["#0009ff","#0091ff","#1affe6","#a1ff5e","#ffb400","#ff3300","#c00000"]},"legend":null}}},
{"data":{"name":"oC"},"mark":{"type":"line","interpolate":"linear","strokeWidth":1.2,"clip":true},
"encoding":{"x":{"field":"x","type":"quantitative","axis":{"values":[100,200],"title":null,"labelOverlap":false}},"y":{"field":"y","type":"quantitative","axis":{"values":[50,100,150,200],"title":null,"labelOverlap":false}},"detail":{"field":"g","type":"nominal"},"order":{"field":"i","type":"quantitative"},
"stroke":{"field":"L","type":"ordinal","scale":{"domain":[20,40,60,80,100,120,140],"range":["#0009ff","#0091ff","#1affe6","#a1ff5e","#ffb400","#ff3300","#c00000"]},"legend":null}}}
]},
{"width":118,"height":118,"title":"Chessboard",
"layer":[
{"data":{"name":"gS"},"mark":{"type":"square","size":44,"opacity":1,"strokeWidth":0},
"encoding":{"x":{"field":"x","type":"quantitative","scale":{"domain":[0,200],"nice":false,"zero":false},"axis":{"values":[100,200],"title":null,"labelOverlap":false}},
"y":{"field":"y","type":"quantitative","scale":{"domain":[0,200],"nice":false,"zero":false,"reverse":true},"axis":{"values":[50,100,150,200],"title":null,"labelOverlap":false}},
"fill":{"field":"d","type":"quantitative","scale":{"domain":[0,100],"range":["#000000","#ffffff"],"interpolate":"rgb"},"legend":null}}},
{"data":{"name":"kS"},"mark":{"type":"line","interpolate":"linear-closed","strokeWidth":1.2,"clip":true},
"encoding":{"x":{"field":"x","type":"quantitative","axis":{"values":[100,200],"title":null,"labelOverlap":false}},"y":{"field":"y","type":"quantitative","axis":{"values":[50,100,150,200],"title":null,"labelOverlap":false}},"detail":{"field":"g","type":"nominal"},"order":{"field":"i","type":"quantitative"},
"stroke":{"field":"L","type":"ordinal","scale":{"domain":[10,20,30,40,50,60,70,80,90],"range":["#0000e6","#004dff","#00b3ff","#1affe6","#80ff80","#e6ff1a","#ffb300","#ff4d00","#e60000"]},"legend":null}}},
{"data":{"name":"oS"},"mark":{"type":"line","interpolate":"linear","strokeWidth":1.2,"clip":true},
"encoding":{"x":{"field":"x","type":"quantitative","axis":{"values":[100,200],"title":null,"labelOverlap":false}},"y":{"field":"y","type":"quantitative","axis":{"values":[50,100,150,200],"title":null,"labelOverlap":false}},"detail":{"field":"g","type":"nominal"},"order":{"field":"i","type":"quantitative"},
"stroke":{"field":"L","type":"ordinal","scale":{"domain":[10,20,30,40,50,60,70,80,90],"range":["#0000e6","#004dff","#00b3ff","#1affe6","#80ff80","#e6ff1a","#ffb300","#ff4d00","#e60000"]},"legend":null}}}
]},
{"width":118,"height":118,"title":"Quasi-Euclidean",
"layer":[
{"data":{"name":"gQ"},"mark":{"type":"square","size":44,"opacity":1,"strokeWidth":0},
"encoding":{"x":{"field":"x","type":"quantitative","scale":{"domain":[0,200],"nice":false,"zero":false},"axis":{"values":[100,200],"title":null,"labelOverlap":false}},
"y":{"field":"y","type":"quantitative","scale":{"domain":[0,200],"nice":false,"zero":false,"reverse":true},"axis":{"values":[50,100,150,200],"title":null,"labelOverlap":false}},
"fill":{"field":"d","type":"quantitative","scale":{"domain":[0,121],"range":["#000000","#ffffff"],"interpolate":"rgb"},"legend":null}}},
{"data":{"name":"kQ"},"mark":{"type":"line","interpolate":"linear-closed","strokeWidth":1.2,"clip":true},
"encoding":{"x":{"field":"x","type":"quantitative","axis":{"values":[100,200],"title":null,"labelOverlap":false}},"y":{"field":"y","type":"quantitative","axis":{"values":[50,100,150,200],"title":null,"labelOverlap":false}},"detail":{"field":"g","type":"nominal"},"order":{"field":"i","type":"quantitative"},
"stroke":{"field":"L","type":"ordinal","scale":{"domain":[20,40,60,80,100],"range":["#002aff","#00d3ff","#7dff82","#ffc800","#ff3000"]},"legend":null}}},
{"data":{"name":"oQ"},"mark":{"type":"line","interpolate":"linear","strokeWidth":1.2,"clip":true},
"encoding":{"x":{"field":"x","type":"quantitative","axis":{"values":[100,200],"title":null,"labelOverlap":false}},"y":{"field":"y","type":"quantitative","axis":{"values":[50,100,150,200],"title":null,"labelOverlap":false}},"detail":{"field":"g","type":"nominal"},"order":{"field":"i","type":"quantitative"},
"stroke":{"field":"L","type":"ordinal","scale":{"domain":[20,40,60,80,100],"range":["#002aff","#00d3ff","#7dff82","#ffc800","#ff3000"]},"legend":null}}}
]}
]
}
